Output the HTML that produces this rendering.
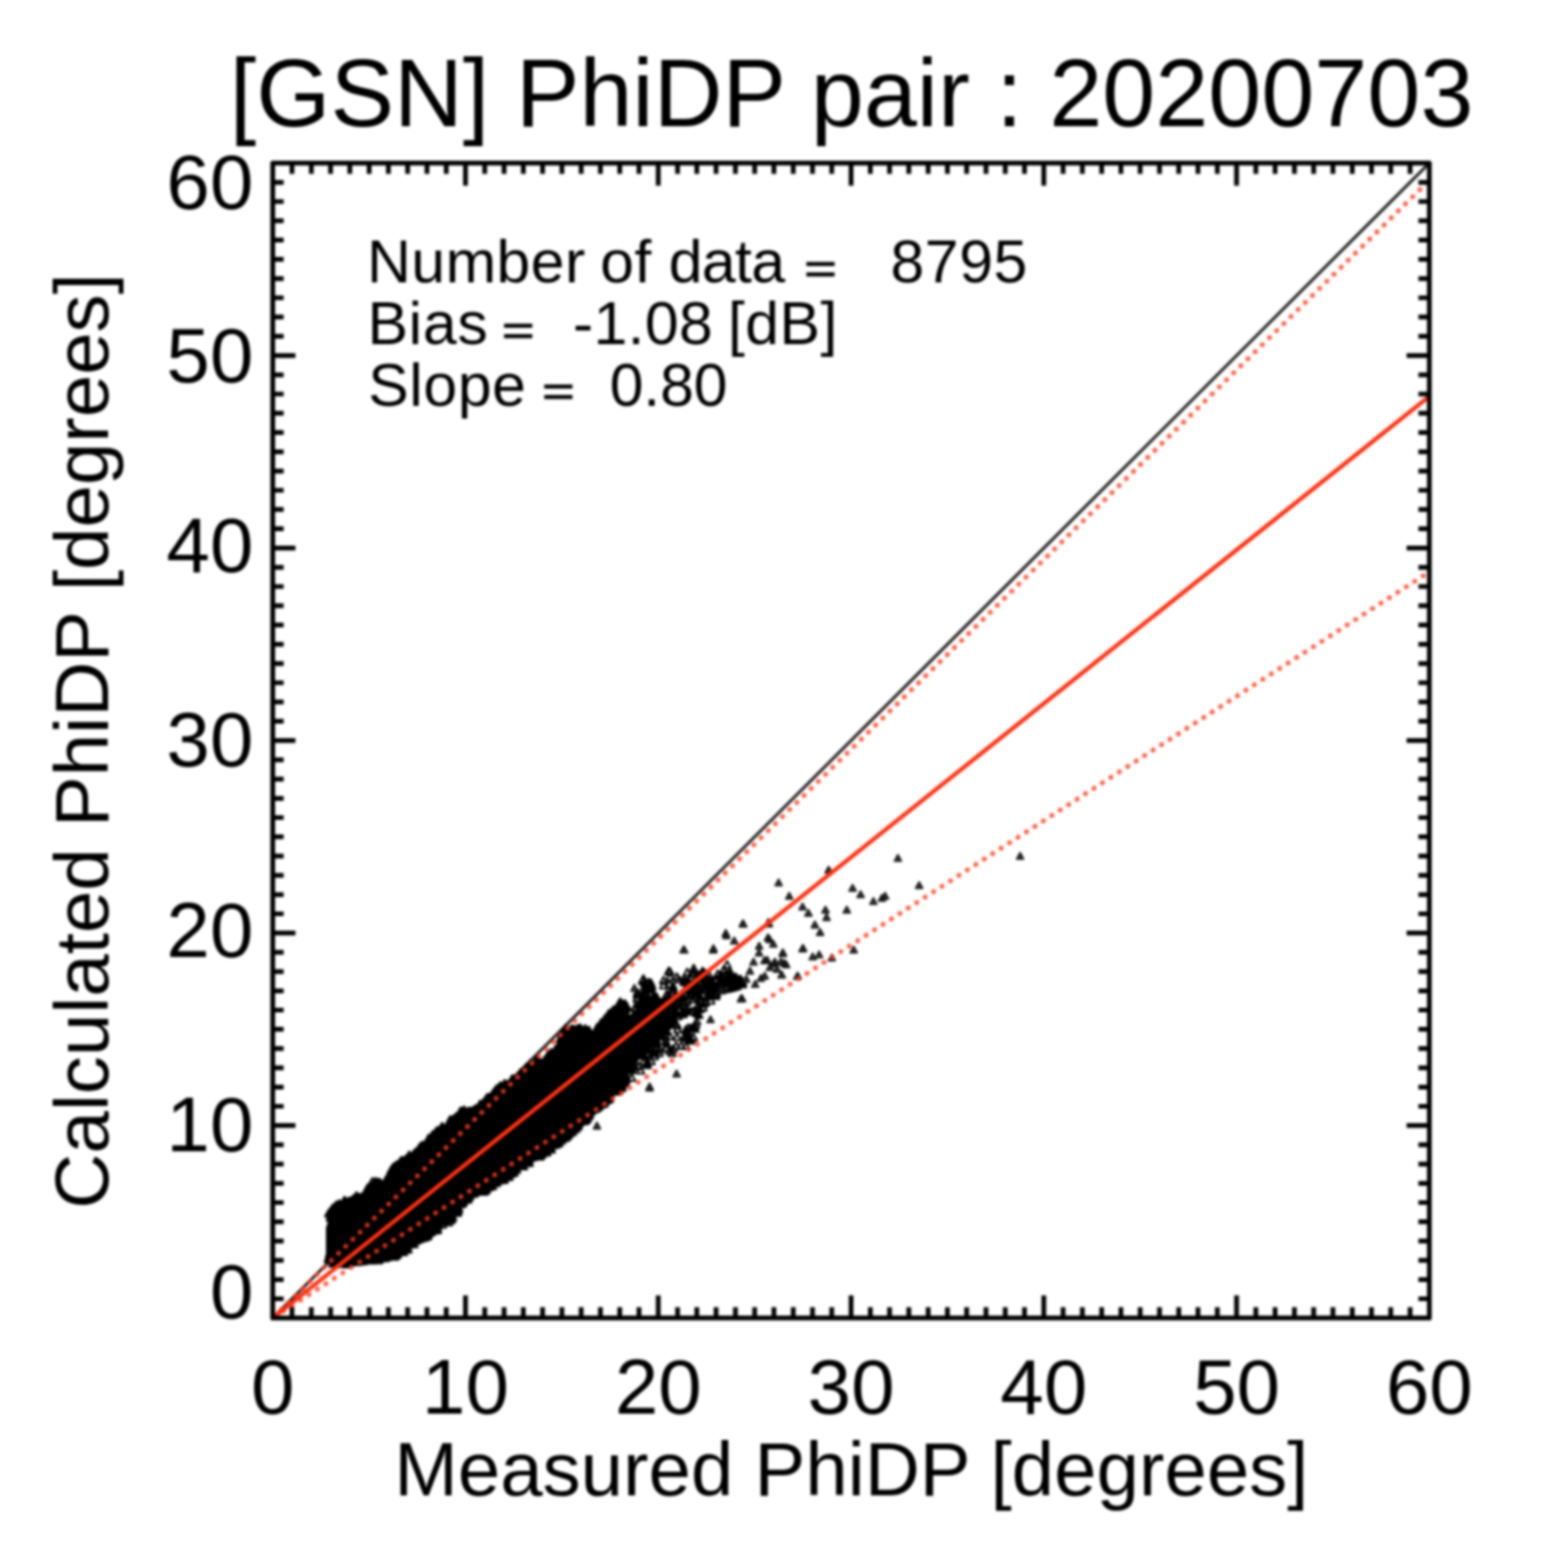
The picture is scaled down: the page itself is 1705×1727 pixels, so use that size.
<!DOCTYPE html><html><head><meta charset="utf-8"><style>html,body{margin:0;padding:0;background:#fff;}svg{display:block;filter:blur(1.4px)}text{font-family:"Liberation Sans",Arial,Helvetica,sans-serif;fill:#000}</style></head><body>
<svg width="1705" height="1727" viewBox="0 0 1705 1727">
<rect width="1705" height="1727" fill="#fff"/>
<text x="253.1" y="139" font-size="105">[GSN] PhiDP pair : 20200703</text>
<line x1="300.4" y1="1451.7" x2="1574.3" y2="179.6" stroke="#222" stroke-width="3.3"/>
<path d="M359.0 1352.0L362.0 1343.6L365.0 1342.3L368.0 1341.0L371.0 1339.5L374.0 1338.0L377.0 1336.5L380.0 1335.0L383.0 1333.8L386.0 1332.7L389.0 1331.5L392.0 1330.2L395.0 1328.7L398.0 1327.3L401.0 1325.6L404.0 1321.6L407.0 1317.7L410.0 1313.7L413.0 1313.4L416.0 1313.9L419.0 1314.4L422.0 1314.9L425.0 1311.2L428.0 1306.3L431.0 1301.4L434.0 1297.7L437.0 1295.0L440.0 1292.3L443.0 1289.7L446.0 1287.5L449.0 1285.4L452.0 1283.3L455.0 1281.2L458.0 1278.6L461.0 1275.9L464.0 1273.2L467.0 1270.4L470.0 1267.8L473.0 1265.3L476.0 1262.8L479.0 1260.3L482.0 1257.8L485.0 1255.2L488.0 1252.5L491.0 1249.8L494.0 1247.1L497.0 1244.3L500.0 1241.4L503.0 1238.5L506.0 1235.6L509.0 1235.2L512.0 1235.4L515.0 1235.6L518.0 1235.9L521.0 1235.0L524.0 1232.2L527.0 1229.4L530.0 1226.5L533.0 1223.7L536.0 1220.9L539.0 1218.4L542.0 1215.9L545.0 1213.4L548.0 1210.9L551.0 1208.5L554.0 1206.0L557.0 1204.1L560.0 1202.5L563.0 1200.8L566.0 1199.2L569.0 1197.2L572.0 1194.6L575.0 1192.0L578.0 1189.4L581.0 1186.8L584.0 1184.2L587.0 1181.6L590.0 1179.3L593.0 1178.8L596.0 1178.3L599.0 1177.2L602.0 1174.8L605.0 1172.4L608.0 1170.0L611.0 1167.7L614.0 1162.5L617.0 1154.0L620.0 1145.6L623.0 1145.3L626.0 1144.9L629.0 1144.6L632.0 1144.3L635.0 1144.3L638.0 1144.3L641.0 1144.3L644.0 1144.3L647.0 1145.7L650.0 1147.5L653.0 1149.2L656.0 1146.4L659.0 1142.6L662.0 1138.9L665.0 1135.1L668.0 1131.4L671.0 1128.1L674.0 1125.1L677.0 1122.1L680.0 1119.1L683.0 1116.1L686.0 1113.1L689.0 1114.2L692.0 1118.3L695.0 1122.7L698.0 1123.6L701.0 1110.2L704.0 1096.7L707.0 1092.6L710.0 1094.9L713.0 1097.1L716.0 1100.0L719.0 1106.7L722.0 1113.0L725.0 1109.5L728.0 1105.9L731.0 1102.3L734.0 1098.7L737.0 1095.1L740.0 1096.8L743.0 1099.4L746.0 1102.0L746.0 1128.2L743.0 1130.7L740.0 1133.2L737.0 1135.6L734.0 1138.0L731.0 1140.2L728.0 1142.5L725.0 1144.7L722.0 1146.9L719.0 1149.2L716.0 1152.6L713.0 1156.4L710.0 1160.1L707.0 1163.8L704.0 1167.5L701.0 1171.3L698.0 1174.5L695.0 1177.5L692.0 1180.5L689.0 1183.1L686.0 1185.0L683.0 1187.3L680.0 1190.0L677.0 1192.7L674.0 1195.4L671.0 1198.1L668.0 1200.8L665.0 1203.5L662.0 1206.2L659.0 1208.9L656.0 1211.6L653.0 1214.3L650.0 1217.0L647.0 1219.7L644.0 1222.4L641.0 1225.1L638.0 1227.8L635.0 1230.5L632.0 1233.2L629.0 1235.9L626.0 1238.6L623.0 1241.3L620.0 1244.0L617.0 1246.2L614.0 1248.5L611.0 1250.7L608.0 1252.9L605.0 1255.1L602.0 1257.3L599.0 1259.1L596.0 1260.9L593.0 1262.7L590.0 1264.5L587.0 1266.3L584.0 1268.1L581.0 1269.9L578.0 1272.1L575.0 1274.3L572.0 1276.5L569.0 1278.7L566.0 1280.9L563.0 1283.2L560.0 1285.3L557.0 1286.9L554.0 1288.6L551.0 1290.2L548.0 1291.9L545.0 1293.6L542.0 1295.2L539.0 1296.9L536.0 1298.5L533.0 1300.2L530.0 1301.8L527.0 1302.8L524.0 1303.8L521.0 1304.7L518.0 1307.3L515.0 1310.7L512.0 1314.1L509.0 1317.5L506.0 1320.9L503.0 1324.3L500.0 1327.8L497.0 1331.3L494.0 1334.6L491.0 1336.6L488.0 1338.6L485.0 1340.6L482.0 1342.6L479.0 1344.6L476.0 1346.5L473.0 1348.3L470.0 1350.2L467.0 1352.1L464.0 1354.0L461.0 1355.8L458.0 1357.9L455.0 1360.1L452.0 1362.2L449.0 1364.3L446.0 1366.5L443.0 1368.5L440.0 1369.9L437.0 1371.3L434.0 1372.7L431.0 1374.1L428.0 1375.5L425.0 1375.9L422.0 1376.2L419.0 1376.5L416.0 1376.7L413.0 1377.0L410.0 1377.3L407.0 1377.5L404.0 1377.8L401.0 1378.1L398.0 1378.5L395.0 1378.9L392.0 1379.3L389.0 1379.7L386.0 1380.1L383.0 1380.4L380.0 1380.3L377.0 1380.2L374.0 1380.0L371.0 1379.8L368.0 1379.6L365.0 1379.4L362.0 1379.2L359.0 1391.0Z" fill="#000"/>
<path d="M576.6 1275.0l-4 7.4h8zM603.3 1255.2l-4 7.4h8zM447.8 1368.5l-4 7.4h8zM404.3 1308.3l-4 7.4h8zM402.6 1374.0l-4 7.4h8zM673.5 1193.0l-4 7.4h8zM434.8 1290.2l-4 7.4h8zM450.5 1279.4l-4 7.4h8zM373.5 1322.0l-4 7.4h8zM608.7 1252.4l-4 7.4h8zM599.4 1259.3l-4 7.4h8zM510.6 1229.3l-4 7.4h8zM498.0 1238.0l-4 7.4h8zM544.9 1295.5l-4 7.4h8zM550.2 1200.6l-4 7.4h8zM661.8 1202.2l-4 7.4h8zM519.0 1304.3l-4 7.4h8zM415.8 1307.4l-4 7.4h8zM444.5 1364.3l-4 7.4h8zM574.2 1187.7l-4 7.4h8zM668.6 1122.5l-4 7.4h8zM561.4 1195.0l-4 7.4h8zM460.4 1266.2l-4 7.4h8zM407.3 1380.3l-4 7.4h8zM461.6 1269.9l-4 7.4h8zM501.5 1229.5l-4 7.4h8zM402.3 1373.7l-4 7.4h8zM537.8 1205.9l-4 7.4h8zM591.7 1261.6l-4 7.4h8zM433.1 1371.6l-4 7.4h8zM479.0 1254.7l-4 7.4h8zM649.3 1141.0l-4 7.4h8zM473.7 1344.4l-4 7.4h8zM482.6 1342.1l-4 7.4h8zM443.4 1366.8l-4 7.4h8zM392.1 1313.7l-4 7.4h8zM654.5 1139.0l-4 7.4h8zM457.1 1274.0l-4 7.4h8zM388.1 1320.2l-4 7.4h8zM536.4 1297.9l-4 7.4h8zM675.0 1194.5l-4 7.4h8zM640.1 1138.5l-4 7.4h8zM369.2 1375.3l-4 7.4h8zM591.0 1269.8l-4 7.4h8zM528.2 1308.5l-4 7.4h8zM559.7 1288.5l-4 7.4h8zM634.5 1232.7l-4 7.4h8zM651.9 1138.2l-4 7.4h8zM666.6 1205.2l-4 7.4h8zM545.8 1295.7l-4 7.4h8zM638.4 1138.3l-4 7.4h8zM373.3 1377.6l-4 7.4h8zM590.3 1172.2l-4 7.4h8zM654.6 1215.5l-4 7.4h8zM482.1 1250.1l-4 7.4h8zM456.4 1266.2l-4 7.4h8zM676.5 1113.5l-4 7.4h8zM679.3 1111.6l-4 7.4h8zM566.3 1287.6l-4 7.4h8zM543.9 1296.4l-4 7.4h8zM511.2 1218.4l-4 7.4h8zM492.1 1243.9l-4 7.4h8zM575.8 1185.2l-4 7.4h8zM660.0 1130.2l-4 7.4h8zM510.7 1318.0l-4 7.4h8zM394.9 1323.4l-4 7.4h8zM379.0 1380.7l-4 7.4h8zM368.2 1333.9l-4 7.4h8zM577.8 1182.7l-4 7.4h8zM426.8 1299.5l-4 7.4h8zM661.6 1128.2l-4 7.4h8zM688.2 1101.8l-4 7.4h8zM587.5 1169.2l-4 7.4h8zM445.1 1283.0l-4 7.4h8zM525.3 1307.7l-4 7.4h8zM548.3 1288.3l-4 7.4h8zM400.9 1374.1l-4 7.4h8zM577.2 1271.5l-4 7.4h8zM540.2 1300.0l-4 7.4h8zM582.0 1272.6l-4 7.4h8zM457.6 1357.5l-4 7.4h8zM461.6 1359.3l-4 7.4h8zM617.3 1247.5l-4 7.4h8zM571.1 1273.4l-4 7.4h8zM372.7 1382.7l-4 7.4h8zM389.8 1377.7l-4 7.4h8zM426.6 1298.8l-4 7.4h8zM607.4 1254.0l-4 7.4h8zM595.9 1264.7l-4 7.4h8zM400.4 1316.2l-4 7.4h8zM666.3 1198.6l-4 7.4h8zM628.3 1130.8l-4 7.4h8zM459.2 1361.0l-4 7.4h8zM611.2 1248.4l-4 7.4h8zM601.0 1261.0l-4 7.4h8zM372.4 1381.8l-4 7.4h8zM629.7 1139.2l-4 7.4h8zM488.5 1239.1l-4 7.4h8zM420.1 1304.4l-4 7.4h8zM451.1 1361.3l-4 7.4h8zM370.0 1333.9l-4 7.4h8zM468.3 1349.3l-4 7.4h8zM657.1 1134.9l-4 7.4h8zM418.1 1372.0l-4 7.4h8zM614.1 1153.3l-4 7.4h8zM539.7 1209.4l-4 7.4h8zM457.3 1354.5l-4 7.4h8zM666.1 1203.2l-4 7.4h8zM470.9 1352.2l-4 7.4h8zM510.9 1226.7l-4 7.4h8zM423.4 1307.1l-4 7.4h8zM483.8 1248.4l-4 7.4h8zM419.6 1304.0l-4 7.4h8zM688.6 1106.1l-4 7.4h8zM414.5 1381.6l-4 7.4h8zM600.8 1254.3l-4 7.4h8zM410.1 1306.7l-4 7.4h8zM624.4 1238.8l-4 7.4h8zM447.8 1280.2l-4 7.4h8zM404.8 1309.1l-4 7.4h8zM516.2 1229.0l-4 7.4h8zM606.9 1165.5l-4 7.4h8zM446.2 1282.2l-4 7.4h8zM554.0 1197.5l-4 7.4h8zM366.4 1381.6l-4 7.4h8zM661.7 1128.4l-4 7.4h8zM483.2 1341.7l-4 7.4h8zM554.1 1291.2l-4 7.4h8zM554.2 1290.8l-4 7.4h8zM392.9 1324.2l-4 7.4h8zM530.1 1297.4l-4 7.4h8zM659.2 1128.8l-4 7.4h8zM521.5 1303.2l-4 7.4h8zM370.0 1375.5l-4 7.4h8zM552.1 1197.9l-4 7.4h8zM453.0 1274.0l-4 7.4h8zM623.6 1239.0l-4 7.4h8zM632.2 1236.1l-4 7.4h8zM395.7 1383.2l-4 7.4h8zM380.7 1379.7l-4 7.4h8zM440.3 1281.2l-4 7.4h8zM653.0 1138.2l-4 7.4h8zM612.4 1247.4l-4 7.4h8zM534.8 1212.7l-4 7.4h8zM495.4 1335.5l-4 7.4h8zM501.4 1235.4l-4 7.4h8zM434.3 1369.9l-4 7.4h8zM546.6 1288.1l-4 7.4h8zM394.4 1376.4l-4 7.4h8zM565.6 1190.0l-4 7.4h8zM610.7 1247.1l-4 7.4h8zM584.3 1266.9l-4 7.4h8zM414.4 1380.4l-4 7.4h8zM578.2 1177.1l-4 7.4h8zM418.8 1307.2l-4 7.4h8zM680.3 1113.6l-4 7.4h8zM560.8 1288.7l-4 7.4h8zM614.3 1253.8l-4 7.4h8zM473.7 1257.0l-4 7.4h8zM659.6 1135.9l-4 7.4h8zM630.7 1239.5l-4 7.4h8zM663.5 1202.1l-4 7.4h8zM378.0 1326.8l-4 7.4h8zM489.3 1244.5l-4 7.4h8zM619.5 1140.2l-4 7.4h8zM400.6 1382.2l-4 7.4h8zM538.5 1211.3l-4 7.4h8zM460.3 1271.5l-4 7.4h8zM659.0 1205.9l-4 7.4h8zM483.1 1343.9l-4 7.4h8zM536.5 1299.4l-4 7.4h8zM622.9 1237.2l-4 7.4h8zM564.7 1184.4l-4 7.4h8zM396.8 1315.7l-4 7.4h8zM630.4 1137.7l-4 7.4h8zM395.6 1318.8l-4 7.4h8zM677.5 1113.6l-4 7.4h8zM495.1 1231.6l-4 7.4h8zM531.1 1298.8l-4 7.4h8zM632.8 1230.3l-4 7.4h8zM569.7 1275.5l-4 7.4h8zM551.2 1290.9l-4 7.4h8zM478.4 1252.1l-4 7.4h8zM549.3 1200.6l-4 7.4h8zM452.8 1359.4l-4 7.4h8zM629.7 1132.2l-4 7.4h8zM494.4 1234.0l-4 7.4h8zM631.9 1229.4l-4 7.4h8zM672.2 1199.9l-4 7.4h8zM399.4 1318.8l-4 7.4h8zM399.7 1380.3l-4 7.4h8zM671.2 1114.9l-4 7.4h8zM465.0 1359.7l-4 7.4h8zM548.7 1204.3l-4 7.4h8zM682.4 1102.0l-4 7.4h8zM556.5 1285.0l-4 7.4h8zM679.7 1189.9l-4 7.4h8zM667.0 1208.7l-4 7.4h8zM561.8 1190.4l-4 7.4h8zM539.6 1204.7l-4 7.4h8zM457.3 1270.2l-4 7.4h8zM414.2 1373.0l-4 7.4h8zM389.0 1322.9l-4 7.4h8zM639.9 1224.5l-4 7.4h8zM447.8 1281.0l-4 7.4h8zM472.2 1348.1l-4 7.4h8zM448.0 1278.9l-4 7.4h8zM442.0 1367.5l-4 7.4h8zM589.6 1167.2l-4 7.4h8zM523.5 1306.5l-4 7.4h8zM465.3 1265.4l-4 7.4h8zM544.2 1294.6l-4 7.4h8zM675.3 1118.7l-4 7.4h8zM364.2 1330.0l-4 7.4h8zM650.5 1134.8l-4 7.4h8zM434.5 1291.9l-4 7.4h8zM607.3 1262.0l-4 7.4h8zM487.2 1341.1l-4 7.4h8zM398.6 1321.7l-4 7.4h8zM589.9 1171.9l-4 7.4h8zM641.2 1224.1l-4 7.4h8zM559.6 1291.7l-4 7.4h8zM402.7 1375.4l-4 7.4h8zM611.8 1154.5l-4 7.4h8zM508.8 1225.6l-4 7.4h8zM583.7 1266.2l-4 7.4h8zM532.0 1301.2l-4 7.4h8zM581.1 1269.2l-4 7.4h8zM673.5 1113.6l-4 7.4h8zM473.2 1350.7l-4 7.4h8zM579.3 1172.0l-4 7.4h8zM458.4 1353.6l-4 7.4h8zM498.7 1232.7l-4 7.4h8zM521.3 1228.8l-4 7.4h8zM679.7 1111.6l-4 7.4h8zM517.4 1313.3l-4 7.4h8zM629.7 1236.6l-4 7.4h8zM403.4 1307.3l-4 7.4h8zM404.4 1374.2l-4 7.4h8zM552.5 1288.8l-4 7.4h8zM644.1 1139.1l-4 7.4h8zM418.7 1306.0l-4 7.4h8zM394.0 1381.4l-4 7.4h8zM670.3 1197.6l-4 7.4h8zM544.6 1208.1l-4 7.4h8zM551.7 1285.8l-4 7.4h8zM676.6 1194.3l-4 7.4h8zM523.6 1300.0l-4 7.4h8zM410.1 1297.5l-4 7.4h8zM653.1 1144.0l-4 7.4h8zM622.7 1137.1l-4 7.4h8zM607.2 1248.9l-4 7.4h8zM453.9 1359.3l-4 7.4h8zM399.0 1319.1l-4 7.4h8zM636.3 1231.9l-4 7.4h8zM418.7 1381.2l-4 7.4h8zM620.4 1249.6l-4 7.4h8zM648.3 1131.0l-4 7.4h8zM497.8 1326.2l-4 7.4h8zM448.3 1368.7l-4 7.4h8zM395.7 1315.7l-4 7.4h8zM681.9 1190.2l-4 7.4h8zM366.9 1331.0l-4 7.4h8zM584.1 1173.1l-4 7.4h8zM442.5 1369.7l-4 7.4h8zM485.8 1340.1l-4 7.4h8zM377.2 1383.7l-4 7.4h8zM428.6 1376.5l-4 7.4h8zM556.9 1286.7l-4 7.4h8zM592.7 1265.0l-4 7.4h8zM555.7 1189.4l-4 7.4h8zM631.2 1237.1l-4 7.4h8zM566.9 1277.0l-4 7.4h8zM513.3 1228.8l-4 7.4h8zM505.6 1319.8l-4 7.4h8zM574.0 1271.9l-4 7.4h8zM549.8 1202.1l-4 7.4h8zM474.0 1252.4l-4 7.4h8zM679.2 1192.1l-4 7.4h8zM561.7 1281.4l-4 7.4h8zM631.6 1239.5l-4 7.4h8zM406.4 1378.7l-4 7.4h8zM550.1 1199.3l-4 7.4h8zM507.1 1227.7l-4 7.4h8zM586.3 1173.4l-4 7.4h8zM529.3 1216.3l-4 7.4h8zM456.2 1366.4l-4 7.4h8zM451.1 1361.2l-4 7.4h8zM509.5 1313.2l-4 7.4h8zM423.9 1377.9l-4 7.4h8zM397.0 1320.5l-4 7.4h8zM506.7 1316.8l-4 7.4h8zM472.2 1348.1l-4 7.4h8zM538.2 1299.2l-4 7.4h8zM469.1 1258.1l-4 7.4h8zM679.8 1112.9l-4 7.4h8zM570.8 1275.0l-4 7.4h8zM614.3 1152.7l-4 7.4h8zM479.7 1342.7l-4 7.4h8zM400.9 1321.0l-4 7.4h8zM493.2 1335.4l-4 7.4h8zM448.6 1361.7l-4 7.4h8zM581.0 1265.4l-4 7.4h8zM544.0 1293.6l-4 7.4h8zM626.4 1233.6l-4 7.4h8zM532.0 1297.8l-4 7.4h8zM602.2 1260.2l-4 7.4h8zM688.1 1182.9l-4 7.4h8zM438.4 1367.2l-4 7.4h8zM472.2 1259.7l-4 7.4h8zM472.5 1249.8l-4 7.4h8zM465.4 1350.2l-4 7.4h8zM646.1 1215.9l-4 7.4h8zM634.4 1228.0l-4 7.4h8zM367.6 1333.2l-4 7.4h8zM568.1 1192.4l-4 7.4h8zM393.9 1386.0l-4 7.4h8zM632.6 1229.3l-4 7.4h8zM429.3 1294.9l-4 7.4h8zM379.4 1325.0l-4 7.4h8zM486.3 1340.6l-4 7.4h8zM401.6 1375.8l-4 7.4h8zM435.9 1371.6l-4 7.4h8zM388.4 1324.1l-4 7.4h8zM379.3 1327.4l-4 7.4h8zM428.5 1300.8l-4 7.4h8zM474.7 1344.5l-4 7.4h8zM427.1 1301.2l-4 7.4h8zM395.8 1317.2l-4 7.4h8zM469.6 1259.0l-4 7.4h8zM581.0 1266.8l-4 7.4h8zM534.1 1209.3l-4 7.4h8zM378.1 1330.3l-4 7.4h8zM671.5 1117.4l-4 7.4h8zM643.1 1226.9l-4 7.4h8zM581.5 1178.2l-4 7.4h8zM462.6 1264.5l-4 7.4h8zM447.3 1363.2l-4 7.4h8zM462.2 1266.5l-4 7.4h8zM507.4 1220.7l-4 7.4h8zM457.4 1274.2l-4 7.4h8zM394.0 1377.8l-4 7.4h8zM367.9 1332.5l-4 7.4h8zM485.2 1241.3l-4 7.4h8zM488.2 1243.0l-4 7.4h8zM432.8 1375.7l-4 7.4h8zM368.8 1327.5l-4 7.4h8zM543.9 1205.4l-4 7.4h8zM608.8 1160.9l-4 7.4h8zM548.5 1202.3l-4 7.4h8zM645.4 1139.3l-4 7.4h8zM509.2 1227.2l-4 7.4h8zM484.2 1337.5l-4 7.4h8zM679.4 1113.6l-4 7.4h8zM554.0 1196.4l-4 7.4h8zM467.7 1262.6l-4 7.4h8zM378.6 1327.4l-4 7.4h8zM662.2 1207.8l-4 7.4h8zM463.0 1358.1l-4 7.4h8zM402.2 1317.6l-4 7.4h8zM543.4 1208.7l-4 7.4h8zM598.1 1169.7l-4 7.4h8zM587.6 1170.9l-4 7.4h8zM679.0 1110.6l-4 7.4h8zM562.1 1193.4l-4 7.4h8zM639.2 1231.6l-4 7.4h8zM370.1 1332.0l-4 7.4h8zM534.2 1216.2l-4 7.4h8zM597.4 1256.7l-4 7.4h8zM584.6 1179.0l-4 7.4h8zM525.9 1300.0l-4 7.4h8zM631.1 1137.7l-4 7.4h8zM584.7 1266.7l-4 7.4h8zM533.4 1305.8l-4 7.4h8zM660.8 1206.7l-4 7.4h8zM556.7 1197.7l-4 7.4h8zM542.7 1302.3l-4 7.4h8zM377.3 1326.1l-4 7.4h8zM532.4 1296.2l-4 7.4h8zM431.1 1295.3l-4 7.4h8zM471.8 1252.0l-4 7.4h8zM620.6 1140.4l-4 7.4h8zM671.7 1200.4l-4 7.4h8zM659.3 1212.4l-4 7.4h8zM509.7 1315.4l-4 7.4h8zM435.7 1376.6l-4 7.4h8zM595.0 1260.5l-4 7.4h8zM615.8 1148.8l-4 7.4h8zM478.9 1252.4l-4 7.4h8zM419.6 1302.9l-4 7.4h8zM392.0 1324.7l-4 7.4h8zM576.2 1271.8l-4 7.4h8zM590.2 1165.9l-4 7.4h8zM384.7 1318.8l-4 7.4h8zM603.1 1260.0l-4 7.4h8zM480.1 1345.7l-4 7.4h8zM516.2 1230.4l-4 7.4h8zM658.7 1205.7l-4 7.4h8zM540.3 1294.7l-4 7.4h8zM470.1 1254.5l-4 7.4h8zM423.3 1372.2l-4 7.4h8zM560.7 1292.3l-4 7.4h8zM382.4 1385.0l-4 7.4h8zM415.9 1306.9l-4 7.4h8zM416.8 1299.2l-4 7.4h8zM371.8 1381.5l-4 7.4h8zM507.7 1315.0l-4 7.4h8zM495.5 1232.9l-4 7.4h8zM546.3 1295.7l-4 7.4h8zM621.6 1240.4l-4 7.4h8zM410.5 1375.8l-4 7.4h8zM479.9 1250.8l-4 7.4h8zM368.3 1379.0l-4 7.4h8zM428.1 1371.5l-4 7.4h8zM590.9 1169.9l-4 7.4h8zM507.8 1225.1l-4 7.4h8zM446.8 1278.0l-4 7.4h8zM591.9 1174.3l-4 7.4h8zM549.4 1196.1l-4 7.4h8zM658.7 1135.4l-4 7.4h8zM572.2 1272.4l-4 7.4h8zM371.9 1330.5l-4 7.4h8zM416.1 1302.4l-4 7.4h8zM508.1 1322.3l-4 7.4h8zM364.0 1337.2l-4 7.4h8zM612.6 1245.1l-4 7.4h8zM551.0 1290.8l-4 7.4h8zM407.5 1382.7l-4 7.4h8zM552.5 1284.9l-4 7.4h8zM468.3 1258.2l-4 7.4h8zM534.4 1301.8l-4 7.4h8zM529.3 1217.9l-4 7.4h8zM404.3 1313.4l-4 7.4h8zM460.7 1360.8l-4 7.4h8zM444.3 1281.3l-4 7.4h8zM427.8 1301.3l-4 7.4h8zM600.7 1170.8l-4 7.4h8zM513.6 1311.8l-4 7.4h8zM513.4 1309.2l-4 7.4h8zM464.6 1260.9l-4 7.4h8zM444.5 1277.0l-4 7.4h8zM530.8 1302.3l-4 7.4h8zM540.9 1298.6l-4 7.4h8zM461.1 1360.9l-4 7.4h8zM661.4 1210.5l-4 7.4h8zM632.1 1134.5l-4 7.4h8zM577.0 1276.7l-4 7.4h8zM560.7 1196.4l-4 7.4h8zM634.5 1235.1l-4 7.4h8zM374.5 1383.6l-4 7.4h8zM645.0 1219.8l-4 7.4h8zM432.1 1284.4l-4 7.4h8zM509.5 1312.7l-4 7.4h8zM671.3 1198.8l-4 7.4h8zM605.1 1260.7l-4 7.4h8zM390.2 1376.1l-4 7.4h8zM577.4 1272.7l-4 7.4h8zM453.3 1276.3l-4 7.4h8zM626.0 1236.0l-4 7.4h8zM595.1 1169.9l-4 7.4h8zM623.2 1248.7l-4 7.4h8zM432.0 1293.7l-4 7.4h8zM525.3 1299.8l-4 7.4h8zM415.5 1299.5l-4 7.4h8zM655.8 1215.3l-4 7.4h8zM393.6 1376.9l-4 7.4h8zM453.8 1365.1l-4 7.4h8zM566.2 1191.5l-4 7.4h8zM661.9 1129.6l-4 7.4h8zM649.1 1214.7l-4 7.4h8zM583.4 1177.0l-4 7.4h8zM414.8 1377.0l-4 7.4h8zM453.4 1360.5l-4 7.4h8zM532.3 1216.7l-4 7.4h8zM662.6 1131.5l-4 7.4h8zM525.6 1299.3l-4 7.4h8zM472.1 1347.2l-4 7.4h8zM496.8 1339.8l-4 7.4h8zM684.5 1104.1l-4 7.4h8zM648.2 1139.2l-4 7.4h8zM389.9 1325.2l-4 7.4h8zM499.9 1330.2l-4 7.4h8zM682.3 1109.3l-4 7.4h8zM480.0 1253.0l-4 7.4h8zM523.3 1304.5l-4 7.4h8zM621.6 1133.8l-4 7.4h8zM401.5 1313.0l-4 7.4h8zM680.9 1106.2l-4 7.4h8zM370.2 1381.2l-4 7.4h8zM582.6 1179.6l-4 7.4h8zM549.1 1290.0l-4 7.4h8zM671.6 1195.4l-4 7.4h8zM581.3 1181.8l-4 7.4h8zM674.6 1115.5l-4 7.4h8zM536.9 1215.2l-4 7.4h8zM548.8 1290.2l-4 7.4h8zM671.1 1195.4l-4 7.4h8zM480.9 1340.1l-4 7.4h8zM416.6 1298.2l-4 7.4h8zM366.6 1387.9l-4 7.4h8zM370.6 1330.4l-4 7.4h8zM616.8 1250.6l-4 7.4h8zM504.0 1325.9l-4 7.4h8zM418.9 1373.8l-4 7.4h8zM605.4 1165.5l-4 7.4h8zM477.7 1252.5l-4 7.4h8zM576.3 1270.3l-4 7.4h8zM580.0 1276.1l-4 7.4h8zM433.5 1376.1l-4 7.4h8zM611.5 1152.8l-4 7.4h8zM557.8 1190.7l-4 7.4h8zM433.0 1369.6l-4 7.4h8zM434.3 1378.2l-4 7.4h8zM372.7 1328.7l-4 7.4h8zM381.2 1325.5l-4 7.4h8zM412.8 1374.8l-4 7.4h8zM517.1 1223.5l-4 7.4h8zM632.2 1239.6l-4 7.4h8zM548.7 1205.4l-4 7.4h8zM535.9 1211.4l-4 7.4h8zM588.4 1169.3l-4 7.4h8zM382.8 1378.9l-4 7.4h8zM388.7 1381.4l-4 7.4h8zM466.1 1264.7l-4 7.4h8zM537.9 1210.0l-4 7.4h8zM593.4 1173.6l-4 7.4h8zM554.6 1292.4l-4 7.4h8zM534.9 1294.9l-4 7.4h8zM536.4 1209.2l-4 7.4h8zM510.6 1225.2l-4 7.4h8zM607.3 1251.6l-4 7.4h8zM480.2 1253.8l-4 7.4h8zM563.7 1282.4l-4 7.4h8zM686.0 1105.4l-4 7.4h8zM516.9 1226.3l-4 7.4h8zM667.9 1116.5l-4 7.4h8zM666.2 1124.2l-4 7.4h8zM637.9 1139.1l-4 7.4h8zM685.9 1187.2l-4 7.4h8zM395.1 1384.4l-4 7.4h8zM540.7 1208.4l-4 7.4h8zM569.1 1187.9l-4 7.4h8zM393.4 1315.4l-4 7.4h8zM679.5 1188.4l-4 7.4h8zM508.1 1316.0l-4 7.4h8zM628.5 1233.4l-4 7.4h8zM617.0 1248.2l-4 7.4h8zM418.3 1373.5l-4 7.4h8zM566.8 1193.9l-4 7.4h8zM683.4 1192.3l-4 7.4h8zM545.6 1289.0l-4 7.4h8zM409.6 1377.0l-4 7.4h8zM456.2 1268.2l-4 7.4h8zM437.8 1283.1l-4 7.4h8zM545.9 1292.7l-4 7.4h8zM516.8 1306.3l-4 7.4h8zM471.4 1261.0l-4 7.4h8zM482.6 1244.3l-4 7.4h8zM540.6 1299.6l-4 7.4h8zM628.1 1235.8l-4 7.4h8zM578.2 1183.3l-4 7.4h8zM408.2 1300.7l-4 7.4h8zM375.9 1383.0l-4 7.4h8zM519.2 1227.9l-4 7.4h8zM406.0 1373.9l-4 7.4h8zM616.3 1246.4l-4 7.4h8zM417.1 1384.1l-4 7.4h8zM534.1 1301.9l-4 7.4h8zM498.9 1325.2l-4 7.4h8zM478.9 1250.8l-4 7.4h8zM617.4 1147.0l-4 7.4h8zM422.3 1305.5l-4 7.4h8zM490.1 1244.6l-4 7.4h8zM436.0 1374.8l-4 7.4h8zM652.1 1211.3l-4 7.4h8zM676.4 1196.6l-4 7.4h8zM484.0 1245.9l-4 7.4h8zM471.3 1259.7l-4 7.4h8zM537.2 1300.5l-4 7.4h8zM631.3 1137.1l-4 7.4h8zM470.7 1357.1l-4 7.4h8zM675.1 1109.6l-4 7.4h8zM388.5 1376.6l-4 7.4h8zM633.6 1227.8l-4 7.4h8zM688.6 1180.5l-4 7.4h8zM396.1 1381.8l-4 7.4h8zM447.8 1365.3l-4 7.4h8zM454.0 1362.2l-4 7.4h8zM559.7 1191.4l-4 7.4h8zM627.2 1236.5l-4 7.4h8zM629.1 1138.2l-4 7.4h8zM368.7 1330.5l-4 7.4h8zM643.1 1225.4l-4 7.4h8zM400.6 1379.4l-4 7.4h8zM374.3 1322.1l-4 7.4h8zM370.6 1323.2l-4 7.4h8zM609.0 1248.1l-4 7.4h8zM555.1 1200.0l-4 7.4h8zM485.1 1336.8l-4 7.4h8zM612.1 1159.0l-4 7.4h8zM471.7 1350.9l-4 7.4h8zM443.5 1284.5l-4 7.4h8zM519.1 1223.9l-4 7.4h8zM673.7 1115.8l-4 7.4h8zM447.8 1281.0l-4 7.4h8zM504.0 1231.5l-4 7.4h8zM618.8 1134.8l-4 7.4h8zM537.3 1205.0l-4 7.4h8zM545.2 1205.8l-4 7.4h8zM521.7 1310.9l-4 7.4h8zM541.5 1202.8l-4 7.4h8zM587.9 1267.1l-4 7.4h8zM365.7 1335.7l-4 7.4h8zM428.0 1300.1l-4 7.4h8zM523.5 1305.8l-4 7.4h8zM451.7 1271.0l-4 7.4h8zM685.2 1183.3l-4 7.4h8zM416.8 1307.1l-4 7.4h8zM447.9 1280.7l-4 7.4h8zM382.7 1328.0l-4 7.4h8zM612.4 1248.1l-4 7.4h8zM398.2 1319.9l-4 7.4h8zM395.9 1322.7l-4 7.4h8zM517.9 1305.9l-4 7.4h8zM580.1 1277.0l-4 7.4h8zM370.8 1381.3l-4 7.4h8zM551.7 1201.2l-4 7.4h8zM460.8 1268.1l-4 7.4h8zM464.7 1358.4l-4 7.4h8zM582.7 1180.6l-4 7.4h8zM366.3 1332.2l-4 7.4h8zM656.6 1139.7l-4 7.4h8zM586.5 1264.5l-4 7.4h8zM638.4 1134.1l-4 7.4h8zM618.8 1137.3l-4 7.4h8zM471.2 1357.3l-4 7.4h8zM437.2 1371.9l-4 7.4h8zM441.2 1365.3l-4 7.4h8zM472.1 1353.0l-4 7.4h8zM689.6 1103.1l-4 7.4h8zM606.3 1164.0l-4 7.4h8zM662.9 1124.7l-4 7.4h8zM402.3 1310.1l-4 7.4h8zM493.7 1241.6l-4 7.4h8zM399.7 1374.8l-4 7.4h8zM481.5 1350.5l-4 7.4h8zM594.6 1168.6l-4 7.4h8zM498.8 1330.6l-4 7.4h8zM453.5 1277.6l-4 7.4h8zM688.5 1181.6l-4 7.4h8zM443.8 1375.0l-4 7.4h8zM504.9 1230.8l-4 7.4h8zM605.2 1167.0l-4 7.4h8zM652.7 1218.5l-4 7.4h8zM390.0 1378.8l-4 7.4h8zM411.6 1376.4l-4 7.4h8zM448.4 1364.2l-4 7.4h8zM658.6 1138.2l-4 7.4h8zM632.8 1230.2l-4 7.4h8zM666.4 1124.2l-4 7.4h8zM370.0 1331.4l-4 7.4h8zM469.0 1347.8l-4 7.4h8zM607.1 1156.3l-4 7.4h8zM490.3 1239.9l-4 7.4h8zM518.0 1310.6l-4 7.4h8zM498.7 1336.8l-4 7.4h8zM519.3 1220.0l-4 7.4h8zM616.6 1147.8l-4 7.4h8zM479.1 1251.4l-4 7.4h8zM516.5 1228.8l-4 7.4h8zM666.7 1125.8l-4 7.4h8zM417.7 1306.9l-4 7.4h8zM688.8 1187.4l-4 7.4h8zM479.8 1342.6l-4 7.4h8zM612.8 1160.9l-4 7.4h8zM431.3 1371.6l-4 7.4h8zM490.1 1333.4l-4 7.4h8zM670.6 1199.6l-4 7.4h8zM578.6 1178.4l-4 7.4h8zM386.0 1323.5l-4 7.4h8zM488.6 1336.7l-4 7.4h8zM563.7 1279.3l-4 7.4h8zM552.9 1288.4l-4 7.4h8zM381.3 1384.0l-4 7.4h8zM420.8 1308.9l-4 7.4h8zM394.1 1324.4l-4 7.4h8zM584.4 1167.1l-4 7.4h8zM593.1 1261.7l-4 7.4h8zM510.8 1314.9l-4 7.4h8zM465.3 1352.3l-4 7.4h8zM603.7 1157.9l-4 7.4h8zM482.8 1345.5l-4 7.4h8zM574.7 1181.1l-4 7.4h8zM510.8 1313.6l-4 7.4h8zM556.8 1198.6l-4 7.4h8zM586.8 1268.9l-4 7.4h8zM552.1 1295.7l-4 7.4h8zM501.5 1330.5l-4 7.4h8zM680.7 1110.9l-4 7.4h8zM673.3 1120.2l-4 7.4h8zM523.4 1307.4l-4 7.4h8zM367.0 1336.3l-4 7.4h8zM654.1 1139.1l-4 7.4h8zM550.6 1290.6l-4 7.4h8zM547.2 1290.3l-4 7.4h8zM637.5 1129.0l-4 7.4h8zM629.0 1234.8l-4 7.4h8zM515.2 1306.1l-4 7.4h8zM491.0 1339.5l-4 7.4h8zM439.4 1367.0l-4 7.4h8zM678.0 1114.1l-4 7.4h8zM428.8 1376.8l-4 7.4h8zM580.4 1274.1l-4 7.4h8zM528.6 1298.2l-4 7.4h8zM395.2 1320.5l-4 7.4h8zM541.9 1202.1l-4 7.4h8zM531.4 1302.7l-4 7.4h8zM675.1 1118.4l-4 7.4h8zM508.6 1317.8l-4 7.4h8zM444.6 1281.9l-4 7.4h8zM400.2 1373.9l-4 7.4h8zM594.3 1262.4l-4 7.4h8zM372.5 1378.1l-4 7.4h8zM521.1 1303.5l-4 7.4h8zM464.0 1265.8l-4 7.4h8zM633.2 1234.0l-4 7.4h8zM466.5 1263.6l-4 7.4h8zM523.1 1225.8l-4 7.4h8zM566.4 1284.5l-4 7.4h8zM441.4 1281.5l-4 7.4h8zM462.9 1353.3l-4 7.4h8zM534.2 1214.7l-4 7.4h8zM381.7 1387.4l-4 7.4h8zM620.3 1243.9l-4 7.4h8zM404.8 1304.6l-4 7.4h8zM389.1 1316.9l-4 7.4h8zM443.8 1283.1l-4 7.4h8zM679.8 1188.8l-4 7.4h8zM498.0 1332.0l-4 7.4h8zM530.2 1221.7l-4 7.4h8zM484.5 1245.7l-4 7.4h8zM508.3 1314.0l-4 7.4h8zM584.6 1266.3l-4 7.4h8zM509.0 1313.1l-4 7.4h8zM676.2 1197.9l-4 7.4h8zM599.7 1166.1l-4 7.4h8zM584.4 1268.2l-4 7.4h8zM615.4 1246.4l-4 7.4h8zM369.7 1332.7l-4 7.4h8zM374.3 1379.3l-4 7.4h8zM451.0 1362.0l-4 7.4h8zM687.8 1179.5l-4 7.4h8zM550.2 1293.3l-4 7.4h8zM394.8 1316.2l-4 7.4h8zM606.6 1165.1l-4 7.4h8zM365.4 1328.1l-4 7.4h8zM546.4 1294.6l-4 7.4h8zM568.5 1279.9l-4 7.4h8zM643.7 1221.4l-4 7.4h8zM683.3 1104.8l-4 7.4h8zM574.0 1274.9l-4 7.4h8zM662.8 1126.0l-4 7.4h8zM464.8 1349.4l-4 7.4h8zM519.6 1303.3l-4 7.4h8zM627.8 1136.8l-4 7.4h8zM386.5 1324.0l-4 7.4h8zM426.6 1300.2l-4 7.4h8zM586.8 1262.5l-4 7.4h8zM513.5 1229.0l-4 7.4h8zM664.5 1203.0l-4 7.4h8zM380.0 1384.7l-4 7.4h8zM480.4 1347.3l-4 7.4h8zM448.1 1276.7l-4 7.4h8zM493.1 1331.5l-4 7.4h8zM683.4 1109.2l-4 7.4h8zM498.4 1329.4l-4 7.4h8zM681.1 1192.1l-4 7.4h8zM596.4 1166.7l-4 7.4h8zM595.7 1171.7l-4 7.4h8zM372.4 1375.7l-4 7.4h8zM537.6 1209.7l-4 7.4h8zM445.8 1369.0l-4 7.4h8zM599.4 1258.7l-4 7.4h8zM450.2 1360.8l-4 7.4h8zM396.6 1378.2l-4 7.4h8zM584.0 1264.4l-4 7.4h8zM657.0 1206.8l-4 7.4h8zM383.8 1386.1l-4 7.4h8zM430.1 1296.8l-4 7.4h8zM542.2 1210.7l-4 7.4h8zM381.4 1387.5l-4 7.4h8zM377.0 1323.3l-4 7.4h8zM496.9 1236.4l-4 7.4h8zM667.0 1125.2l-4 7.4h8zM440.1 1367.9l-4 7.4h8zM632.3 1231.0l-4 7.4h8zM545.6 1199.6l-4 7.4h8zM452.0 1276.5l-4 7.4h8zM363.5 1380.2l-4 7.4h8zM619.6 1243.1l-4 7.4h8zM422.5 1308.7l-4 7.4h8zM378.7 1325.0l-4 7.4h8zM499.8 1325.5l-4 7.4h8zM448.3 1271.5l-4 7.4h8zM413.2 1373.2l-4 7.4h8zM533.2 1308.5l-4 7.4h8zM636.6 1236.9l-4 7.4h8zM674.5 1190.5l-4 7.4h8zM428.1 1298.3l-4 7.4h8zM388.9 1376.4l-4 7.4h8zM493.5 1239.6l-4 7.4h8zM574.3 1272.9l-4 7.4h8zM485.3 1248.9l-4 7.4h8zM454.6 1359.7l-4 7.4h8zM522.3 1228.8l-4 7.4h8zM516.9 1231.2l-4 7.4h8zM665.7 1128.6l-4 7.4h8zM590.6 1264.1l-4 7.4h8zM561.5 1192.6l-4 7.4h8zM581.7 1268.2l-4 7.4h8zM432.1 1373.3l-4 7.4h8zM655.6 1141.4l-4 7.4h8zM376.0 1328.1l-4 7.4h8zM634.3 1236.2l-4 7.4h8zM387.0 1320.6l-4 7.4h8zM687.9 1180.8l-4 7.4h8zM538.0 1213.6l-4 7.4h8zM469.3 1262.6l-4 7.4h8zM436.7 1287.3l-4 7.4h8zM649.2 1213.7l-4 7.4h8zM524.7 1222.0l-4 7.4h8zM625.5 1243.7l-4 7.4h8zM684.7 1183.8l-4 7.4h8zM663.4 1121.6l-4 7.4h8zM364.2 1337.3l-4 7.4h8zM604.1 1260.0l-4 7.4h8zM387.3 1319.9l-4 7.4h8zM498.5 1232.1l-4 7.4h8zM602.3 1264.1l-4 7.4h8zM591.8 1165.4l-4 7.4h8zM589.8 1172.8l-4 7.4h8zM551.2 1203.7l-4 7.4h8zM685.1 1105.4l-4 7.4h8zM648.6 1219.2l-4 7.4h8zM572.8 1180.1l-4 7.4h8zM461.6 1260.7l-4 7.4h8zM591.3 1165.5l-4 7.4h8zM390.0 1385.2l-4 7.4h8zM461.9 1268.9l-4 7.4h8zM520.2 1229.8l-4 7.4h8zM411.5 1304.3l-4 7.4h8zM458.3 1267.8l-4 7.4h8zM649.2 1137.9l-4 7.4h8zM394.4 1382.9l-4 7.4h8zM513.1 1311.1l-4 7.4h8zM378.6 1380.9l-4 7.4h8zM478.7 1346.5l-4 7.4h8zM511.7 1230.4l-4 7.4h8zM521.0 1219.4l-4 7.4h8zM582.0 1178.1l-4 7.4h8zM597.7 1257.5l-4 7.4h8zM534.3 1210.0l-4 7.4h8zM646.6 1216.6l-4 7.4h8zM554.6 1292.5l-4 7.4h8zM539.1 1207.4l-4 7.4h8zM528.6 1216.3l-4 7.4h8zM684.3 1188.6l-4 7.4h8zM479.8 1248.9l-4 7.4h8zM407.4 1377.8l-4 7.4h8zM541.0 1209.5l-4 7.4h8zM427.4 1373.2l-4 7.4h8zM481.5 1340.1l-4 7.4h8zM467.6 1351.5l-4 7.4h8zM456.0 1270.0l-4 7.4h8zM563.2 1195.9l-4 7.4h8zM666.3 1199.4l-4 7.4h8zM515.9 1229.2l-4 7.4h8zM649.1 1140.5l-4 7.4h8zM577.0 1268.9l-4 7.4h8zM561.5 1195.5l-4 7.4h8zM532.0 1301.9l-4 7.4h8zM419.6 1378.1l-4 7.4h8zM402.4 1375.7l-4 7.4h8zM556.5 1198.2l-4 7.4h8zM637.0 1234.6l-4 7.4h8zM669.6 1121.9l-4 7.4h8zM681.0 1106.9l-4 7.4h8zM606.9 1250.4l-4 7.4h8zM633.1 1229.0l-4 7.4h8zM428.8 1297.9l-4 7.4h8zM436.2 1369.7l-4 7.4h8zM582.8 1270.7l-4 7.4h8zM493.4 1336.5l-4 7.4h8zM403.8 1377.9l-4 7.4h8zM643.2 1220.7l-4 7.4h8zM557.7 1284.1l-4 7.4h8zM482.7 1344.5l-4 7.4h8zM410.3 1306.0l-4 7.4h8zM638.8 1132.1l-4 7.4h8zM541.7 1203.3l-4 7.4h8zM459.3 1270.4l-4 7.4h8zM586.9 1173.0l-4 7.4h8zM528.6 1217.1l-4 7.4h8zM569.2 1184.0l-4 7.4h8zM584.1 1170.0l-4 7.4h8zM516.0 1307.7l-4 7.4h8zM428.8 1295.8l-4 7.4h8zM374.6 1329.1l-4 7.4h8zM563.8 1278.8l-4 7.4h8zM511.3 1229.4l-4 7.4h8zM508.7 1220.1l-4 7.4h8zM542.6 1204.1l-4 7.4h8zM409.6 1309.1l-4 7.4h8zM399.1 1317.4l-4 7.4h8zM510.7 1311.4l-4 7.4h8zM576.4 1180.7l-4 7.4h8zM585.9 1263.2l-4 7.4h8zM648.1 1226.0l-4 7.4h8zM441.3 1368.3l-4 7.4h8zM417.3 1298.3l-4 7.4h8zM571.7 1274.0l-4 7.4h8zM604.3 1164.4l-4 7.4h8zM645.2 1224.3l-4 7.4h8zM393.3 1324.3l-4 7.4h8zM468.4 1258.7l-4 7.4h8zM383.5 1322.8l-4 7.4h8zM630.8 1137.9l-4 7.4h8zM367.1 1378.8l-4 7.4h8zM540.7 1205.9l-4 7.4h8zM383.9 1327.9l-4 7.4h8zM373.2 1330.7l-4 7.4h8zM368.4 1379.5l-4 7.4h8zM611.8 1157.0l-4 7.4h8zM407.8 1380.0l-4 7.4h8zM524.3 1301.7l-4 7.4h8zM601.0 1260.4l-4 7.4h8zM683.2 1099.5l-4 7.4h8zM615.6 1254.6l-4 7.4h8zM384.1 1377.6l-4 7.4h8zM655.4 1209.3l-4 7.4h8zM587.5 1175.4l-4 7.4h8zM438.2 1372.9l-4 7.4h8zM594.2 1265.9l-4 7.4h8zM506.7 1320.1l-4 7.4h8zM491.3 1244.7l-4 7.4h8zM388.1 1376.8l-4 7.4h8zM589.7 1174.5l-4 7.4h8zM409.2 1375.8l-4 7.4h8zM573.3 1187.5l-4 7.4h8zM682.4 1108.8l-4 7.4h8zM586.4 1171.7l-4 7.4h8zM645.7 1229.2l-4 7.4h8zM468.8 1258.2l-4 7.4h8zM580.1 1270.6l-4 7.4h8zM509.2 1226.9l-4 7.4h8zM402.7 1317.3l-4 7.4h8zM379.1 1318.5l-4 7.4h8zM475.6 1346.2l-4 7.4h8zM408.2 1375.9l-4 7.4h8zM586.3 1262.9l-4 7.4h8zM489.5 1340.7l-4 7.4h8zM677.5 1114.6l-4 7.4h8zM460.7 1268.8l-4 7.4h8zM631.6 1138.3l-4 7.4h8zM379.9 1318.2l-4 7.4h8zM593.7 1264.7l-4 7.4h8zM683.9 1182.3l-4 7.4h8zM535.8 1306.7l-4 7.4h8zM581.3 1176.1l-4 7.4h8zM576.0 1271.9l-4 7.4h8zM476.8 1256.4l-4 7.4h8zM684.5 1103.4l-4 7.4h8zM651.9 1215.3l-4 7.4h8zM522.2 1225.3l-4 7.4h8zM678.4 1110.1l-4 7.4h8zM680.3 1198.2l-4 7.4h8zM580.1 1176.0l-4 7.4h8zM653.5 1138.8l-4 7.4h8zM581.4 1265.8l-4 7.4h8zM515.7 1230.5l-4 7.4h8zM548.9 1204.5l-4 7.4h8zM505.9 1228.3l-4 7.4h8zM418.8 1382.2l-4 7.4h8zM522.3 1305.1l-4 7.4h8zM453.1 1357.0l-4 7.4h8zM504.1 1319.6l-4 7.4h8zM499.2 1232.4l-4 7.4h8zM616.3 1150.7l-4 7.4h8zM527.1 1220.3l-4 7.4h8zM645.1 1227.0l-4 7.4h8zM385.6 1328.1l-4 7.4h8zM434.9 1380.1l-4 7.4h8zM659.3 1215.4l-4 7.4h8zM544.1 1207.1l-4 7.4h8zM463.9 1264.2l-4 7.4h8zM651.0 1136.3l-4 7.4h8zM480.8 1351.0l-4 7.4h8zM402.2 1376.0l-4 7.4h8zM420.0 1373.1l-4 7.4h8zM612.6 1161.2l-4 7.4h8zM597.7 1171.2l-4 7.4h8zM372.4 1383.0l-4 7.4h8zM685.1 1107.4l-4 7.4h8zM517.4 1309.3l-4 7.4h8zM611.9 1159.2l-4 7.4h8zM497.1 1333.1l-4 7.4h8zM535.4 1207.8l-4 7.4h8zM437.5 1283.0l-4 7.4h8zM501.4 1229.5l-4 7.4h8zM465.4 1259.8l-4 7.4h8zM561.0 1196.0l-4 7.4h8zM509.9 1314.8l-4 7.4h8zM373.2 1375.9l-4 7.4h8zM383.2 1376.9l-4 7.4h8zM476.6 1247.8l-4 7.4h8zM619.3 1133.4l-4 7.4h8zM391.2 1315.5l-4 7.4h8zM379.3 1377.3l-4 7.4h8zM530.3 1219.5l-4 7.4h8zM567.4 1276.9l-4 7.4h8zM616.0 1149.7l-4 7.4h8zM571.4 1273.3l-4 7.4h8zM476.4 1245.8l-4 7.4h8zM466.5 1263.9l-4 7.4h8zM590.7 1171.9l-4 7.4h8zM559.4 1197.3l-4 7.4h8zM417.0 1379.9l-4 7.4h8zM546.5 1299.0l-4 7.4h8zM440.8 1369.1l-4 7.4h8zM399.2 1379.5l-4 7.4h8zM414.1 1376.9l-4 7.4h8zM424.8 1299.1l-4 7.4h8zM425.0 1301.5l-4 7.4h8zM686.9 1182.2l-4 7.4h8zM593.9 1263.8l-4 7.4h8zM462.9 1259.0l-4 7.4h8zM498.3 1235.3l-4 7.4h8zM489.7 1341.9l-4 7.4h8zM602.3 1166.2l-4 7.4h8zM632.8 1137.1l-4 7.4h8zM559.8 1281.4l-4 7.4h8zM579.0 1173.1l-4 7.4h8zM633.1 1135.8l-4 7.4h8zM428.8 1297.3l-4 7.4h8zM397.1 1321.8l-4 7.4h8zM425.0 1381.4l-4 7.4h8zM625.2 1132.1l-4 7.4h8zM491.9 1339.4l-4 7.4h8zM663.2 1127.9l-4 7.4h8zM455.1 1267.9l-4 7.4h8zM381.4 1388.5l-4 7.4h8zM458.4 1265.6l-4 7.4h8zM366.6 1332.3l-4 7.4h8zM433.0 1281.7l-4 7.4h8zM636.2 1128.9l-4 7.4h8zM493.7 1339.6l-4 7.4h8zM498.3 1325.9l-4 7.4h8zM685.3 1194.0l-4 7.4h8zM525.3 1303.1l-4 7.4h8zM670.1 1121.9l-4 7.4h8zM413.5 1305.2l-4 7.4h8zM407.1 1376.0l-4 7.4h8zM427.3 1372.0l-4 7.4h8zM649.4 1219.1l-4 7.4h8zM658.4 1207.7l-4 7.4h8zM633.1 1134.0l-4 7.4h8zM667.8 1197.3l-4 7.4h8zM372.3 1329.7l-4 7.4h8zM567.8 1282.5l-4 7.4h8zM650.4 1214.4l-4 7.4h8zM685.2 1185.5l-4 7.4h8zM418.4 1308.1l-4 7.4h8zM500.0 1330.3l-4 7.4h8zM444.7 1363.6l-4 7.4h8zM400.0 1320.9l-4 7.4h8zM452.0 1274.4l-4 7.4h8zM610.8 1157.7l-4 7.4h8zM659.5 1130.6l-4 7.4h8zM653.6 1135.1l-4 7.4h8zM462.6 1352.5l-4 7.4h8zM640.6 1227.0l-4 7.4h8zM497.7 1233.5l-4 7.4h8zM567.0 1276.4l-4 7.4h8zM597.3 1259.6l-4 7.4h8zM657.8 1138.4l-4 7.4h8zM643.4 1219.0l-4 7.4h8zM655.2 1217.6l-4 7.4h8zM649.5 1217.0l-4 7.4h8zM622.8 1239.5l-4 7.4h8zM683.7 1183.2l-4 7.4h8zM564.8 1281.1l-4 7.4h8zM605.0 1167.4l-4 7.4h8zM438.6 1370.5l-4 7.4h8zM440.8 1374.2l-4 7.4h8zM574.7 1270.6l-4 7.4h8zM580.2 1178.5l-4 7.4h8zM413.9 1377.8l-4 7.4h8zM585.8 1264.7l-4 7.4h8zM514.5 1315.1l-4 7.4h8zM381.3 1379.7l-4 7.4h8zM593.5 1171.6l-4 7.4h8zM569.5 1188.2l-4 7.4h8zM648.3 1136.5l-4 7.4h8zM473.1 1348.7l-4 7.4h8zM621.8 1140.5l-4 7.4h8zM569.1 1284.3l-4 7.4h8zM482.1 1339.1l-4 7.4h8zM636.8 1232.2l-4 7.4h8zM403.4 1375.7l-4 7.4h8zM366.5 1334.9l-4 7.4h8zM373.1 1329.1l-4 7.4h8zM597.2 1259.4l-4 7.4h8zM365.1 1337.2l-4 7.4h8zM510.6 1221.5l-4 7.4h8zM643.2 1220.4l-4 7.4h8zM682.8 1106.5l-4 7.4h8zM411.9 1377.8l-4 7.4h8zM591.3 1162.8l-4 7.4h8zM490.5 1332.9l-4 7.4h8zM403.0 1315.4l-4 7.4h8zM689.8 1103.3l-4 7.4h8zM640.9 1226.5l-4 7.4h8zM578.0 1267.7l-4 7.4h8zM444.4 1282.2l-4 7.4h8zM375.7 1330.1l-4 7.4h8zM619.9 1140.2l-4 7.4h8zM573.7 1177.4l-4 7.4h8zM685.8 1185.6l-4 7.4h8zM617.9 1245.9l-4 7.4h8zM478.4 1343.1l-4 7.4h8zM603.1 1167.3l-4 7.4h8zM629.0 1133.5l-4 7.4h8zM576.7 1270.9l-4 7.4h8zM595.8 1166.9l-4 7.4h8zM689.8 1103.8l-4 7.4h8zM611.6 1153.9l-4 7.4h8zM605.2 1167.1l-4 7.4h8zM553.0 1197.2l-4 7.4h8zM646.4 1138.0l-4 7.4h8zM624.1 1134.3l-4 7.4h8zM595.7 1169.0l-4 7.4h8zM434.0 1371.5l-4 7.4h8zM420.3 1306.9l-4 7.4h8zM536.0 1215.4l-4 7.4h8zM380.9 1385.3l-4 7.4h8zM391.5 1323.9l-4 7.4h8zM471.6 1355.5l-4 7.4h8zM649.3 1214.0l-4 7.4h8zM449.4 1361.7l-4 7.4h8zM645.7 1134.9l-4 7.4h8zM669.5 1118.7l-4 7.4h8zM614.7 1255.5l-4 7.4h8zM624.6 1139.4l-4 7.4h8zM408.3 1372.9l-4 7.4h8zM623.2 1245.4l-4 7.4h8zM565.5 1191.6l-4 7.4h8zM512.3 1221.4l-4 7.4h8zM574.4 1180.5l-4 7.4h8zM574.8 1179.5l-4 7.4h8zM672.3 1118.9l-4 7.4h8zM626.9 1239.2l-4 7.4h8zM534.2 1216.8l-4 7.4h8zM424.9 1378.6l-4 7.4h8zM493.4 1241.2l-4 7.4h8zM502.5 1322.0l-4 7.4h8zM683.0 1184.8l-4 7.4h8zM601.6 1167.0l-4 7.4h8zM541.2 1209.7l-4 7.4h8zM679.6 1110.0l-4 7.4h8zM482.4 1245.4l-4 7.4h8zM560.9 1284.3l-4 7.4h8zM632.4 1230.6l-4 7.4h8zM624.3 1240.5l-4 7.4h8zM685.7 1102.0l-4 7.4h8zM457.9 1355.9l-4 7.4h8zM661.2 1207.1l-4 7.4h8zM585.3 1176.9l-4 7.4h8zM528.3 1300.8l-4 7.4h8zM416.0 1305.3l-4 7.4h8zM611.7 1257.1l-4 7.4h8zM651.6 1219.0l-4 7.4h8zM496.7 1334.3l-4 7.4h8zM476.4 1351.9l-4 7.4h8zM687.5 1107.5l-4 7.4h8zM544.4 1205.6l-4 7.4h8zM520.0 1227.8l-4 7.4h8zM403.9 1378.8l-4 7.4h8zM557.7 1289.6l-4 7.4h8zM392.2 1321.2l-4 7.4h8zM362.6 1382.7l-4 7.4h8zM663.2 1131.6l-4 7.4h8zM679.5 1110.0l-4 7.4h8zM575.0 1182.9l-4 7.4h8zM508.2 1316.6l-4 7.4h8zM616.4 1246.1l-4 7.4h8zM397.3 1321.7l-4 7.4h8zM683.4 1103.6l-4 7.4h8zM383.2 1327.8l-4 7.4h8zM497.0 1235.8l-4 7.4h8zM371.6 1375.4l-4 7.4h8zM404.3 1377.0l-4 7.4h8zM397.2 1317.6l-4 7.4h8zM602.5 1252.7l-4 7.4h8zM539.0 1211.0l-4 7.4h8zM410.0 1303.3l-4 7.4h8zM620.8 1245.5l-4 7.4h8zM648.2 1137.5l-4 7.4h8zM572.2 1280.0l-4 7.4h8zM379.2 1322.4l-4 7.4h8zM589.4 1167.7l-4 7.4h8zM609.4 1164.0l-4 7.4h8zM388.1 1327.0l-4 7.4h8zM620.8 1248.2l-4 7.4h8zM409.4 1307.5l-4 7.4h8zM652.9 1141.2l-4 7.4h8zM674.0 1115.6l-4 7.4h8zM594.5 1171.8l-4 7.4h8zM475.6 1342.5l-4 7.4h8zM438.9 1279.8l-4 7.4h8zM545.4 1208.1l-4 7.4h8zM371.3 1333.7l-4 7.4h8zM602.8 1260.4l-4 7.4h8zM397.1 1382.1l-4 7.4h8zM594.8 1260.8l-4 7.4h8zM557.1 1195.7l-4 7.4h8zM607.1 1155.2l-4 7.4h8zM654.8 1210.4l-4 7.4h8zM446.5 1364.8l-4 7.4h8zM580.3 1182.4l-4 7.4h8zM439.6 1283.9l-4 7.4h8zM669.5 1195.0l-4 7.4h8zM671.2 1123.1l-4 7.4h8zM507.2 1219.8l-4 7.4h8zM647.8 1141.5l-4 7.4h8zM658.1 1209.1l-4 7.4h8zM395.1 1323.8l-4 7.4h8zM377.6 1328.5l-4 7.4h8zM661.9 1123.6l-4 7.4h8zM458.5 1359.0l-4 7.4h8zM363.7 1331.3l-4 7.4h8zM487.9 1237.5l-4 7.4h8zM671.4 1193.7l-4 7.4h8zM581.1 1174.4l-4 7.4h8zM665.5 1211.6l-4 7.4h8zM489.6 1341.0l-4 7.4h8zM525.5 1218.9l-4 7.4h8zM627.5 1238.0l-4 7.4h8zM440.1 1369.5l-4 7.4h8zM491.2 1243.3l-4 7.4h8zM624.5 1129.7l-4 7.4h8zM389.4 1322.8l-4 7.4h8zM581.5 1179.7l-4 7.4h8zM366.0 1333.3l-4 7.4h8zM383.3 1322.2l-4 7.4h8zM619.8 1136.1l-4 7.4h8zM628.7 1233.1l-4 7.4h8zM434.0 1288.8l-4 7.4h8zM535.5 1296.6l-4 7.4h8zM651.1 1138.9l-4 7.4h8zM457.2 1354.9l-4 7.4h8zM614.3 1255.2l-4 7.4h8zM531.6 1218.1l-4 7.4h8zM444.1 1281.8l-4 7.4h8zM672.1 1112.1l-4 7.4h8zM614.7 1150.3l-4 7.4h8zM513.2 1220.8l-4 7.4h8zM502.4 1226.0l-4 7.4h8zM397.7 1317.9l-4 7.4h8zM670.4 1119.0l-4 7.4h8zM685.1 1106.5l-4 7.4h8zM396.7 1319.6l-4 7.4h8zM602.9 1257.7l-4 7.4h8zM441.2 1280.4l-4 7.4h8zM398.3 1318.6l-4 7.4h8zM416.7 1305.4l-4 7.4h8zM645.2 1218.9l-4 7.4h8zM551.0 1197.5l-4 7.4h8zM537.9 1300.6l-4 7.4h8zM395.5 1314.8l-4 7.4h8zM657.7 1127.6l-4 7.4h8zM579.5 1181.0l-4 7.4h8zM425.4 1371.5l-4 7.4h8zM617.8 1142.4l-4 7.4h8zM384.2 1378.5l-4 7.4h8zM574.9 1185.1l-4 7.4h8zM404.7 1382.0l-4 7.4h8zM465.3 1260.9l-4 7.4h8zM448.9 1277.8l-4 7.4h8zM622.0 1240.4l-4 7.4h8zM649.6 1139.1l-4 7.4h8zM372.3 1383.2l-4 7.4h8zM461.3 1262.4l-4 7.4h8zM647.6 1220.3l-4 7.4h8zM471.4 1256.1l-4 7.4h8zM399.7 1319.4l-4 7.4h8zM429.4 1371.6l-4 7.4h8zM659.1 1133.3l-4 7.4h8zM507.7 1226.4l-4 7.4h8zM476.1 1251.1l-4 7.4h8zM470.4 1347.7l-4 7.4h8zM599.3 1260.9l-4 7.4h8zM528.3 1306.5l-4 7.4h8zM528.0 1221.0l-4 7.4h8zM480.1 1253.3l-4 7.4h8zM646.8 1216.8l-4 7.4h8zM645.0 1226.8l-4 7.4h8zM623.5 1241.4l-4 7.4h8zM450.4 1360.7l-4 7.4h8zM508.9 1313.2l-4 7.4h8zM459.5 1352.6l-4 7.4h8zM549.6 1289.5l-4 7.4h8zM403.2 1373.9l-4 7.4h8zM654.1 1216.5l-4 7.4h8zM568.1 1275.1l-4 7.4h8zM680.1 1187.9l-4 7.4h8zM461.1 1271.2l-4 7.4h8zM467.9 1257.0l-4 7.4h8zM641.3 1226.9l-4 7.4h8zM402.8 1375.6l-4 7.4h8zM500.3 1227.8l-4 7.4h8zM404.1 1374.3l-4 7.4h8zM442.3 1280.5l-4 7.4h8zM430.5 1295.2l-4 7.4h8zM688.7 1184.2l-4 7.4h8zM532.6 1301.3l-4 7.4h8zM370.4 1376.8l-4 7.4h8zM524.0 1217.1l-4 7.4h8zM388.5 1316.9l-4 7.4h8zM430.7 1284.9l-4 7.4h8zM580.3 1274.6l-4 7.4h8zM383.9 1325.1l-4 7.4h8zM640.7 1223.1l-4 7.4h8zM510.2 1229.1l-4 7.4h8zM519.3 1223.0l-4 7.4h8zM664.0 1204.0l-4 7.4h8zM420.0 1380.1l-4 7.4h8zM646.9 1224.6l-4 7.4h8zM425.0 1299.4l-4 7.4h8zM466.8 1351.9l-4 7.4h8zM530.0 1219.4l-4 7.4h8zM488.2 1336.1l-4 7.4h8zM386.5 1376.1l-4 7.4h8zM657.6 1136.6l-4 7.4h8zM614.1 1156.1l-4 7.4h8zM620.9 1245.6l-4 7.4h8zM520.2 1228.4l-4 7.4h8zM535.7 1206.4l-4 7.4h8zM451.5 1275.5l-4 7.4h8zM585.8 1268.4l-4 7.4h8zM481.9 1252.9l-4 7.4h8zM577.4 1182.6l-4 7.4h8zM498.9 1235.1l-4 7.4h8zM378.5 1323.1l-4 7.4h8zM485.8 1244.9l-4 7.4h8zM422.9 1301.5l-4 7.4h8zM509.7 1318.2l-4 7.4h8zM367.3 1326.0l-4 7.4h8zM520.9 1224.4l-4 7.4h8zM420.5 1372.0l-4 7.4h8zM460.2 1266.3l-4 7.4h8zM413.1 1297.6l-4 7.4h8zM465.1 1257.3l-4 7.4h8zM529.8 1297.7l-4 7.4h8zM664.7 1123.1l-4 7.4h8zM593.0 1260.6l-4 7.4h8zM475.5 1343.6l-4 7.4h8zM459.0 1353.8l-4 7.4h8zM677.4 1112.0l-4 7.4h8zM618.5 1143.1l-4 7.4h8zM612.1 1248.6l-4 7.4h8zM443.2 1279.3l-4 7.4h8zM513.3 1230.6l-4 7.4h8zM589.5 1174.5l-4 7.4h8zM485.5 1336.4l-4 7.4h8zM564.5 1280.3l-4 7.4h8zM419.8 1299.9l-4 7.4h8zM554.8 1287.3l-4 7.4h8zM482.0 1350.7l-4 7.4h8zM621.1 1134.0l-4 7.4h8zM421.5 1377.5l-4 7.4h8zM631.7 1138.1l-4 7.4h8zM509.5 1315.4l-4 7.4h8zM463.6 1260.0l-4 7.4h8zM519.0 1224.3l-4 7.4h8zM404.0 1375.1l-4 7.4h8zM662.8 1207.9l-4 7.4h8zM452.4 1276.4l-4 7.4h8zM402.7 1311.4l-4 7.4h8zM594.3 1168.8l-4 7.4h8zM476.1 1254.5l-4 7.4h8zM617.3 1139.9l-4 7.4h8zM565.8 1191.7l-4 7.4h8zM382.5 1381.7l-4 7.4h8zM602.5 1164.9l-4 7.4h8zM385.7 1326.6l-4 7.4h8zM518.6 1225.9l-4 7.4h8zM501.4 1328.4l-4 7.4h8zM524.2 1303.8l-4 7.4h8zM529.7 1301.9l-4 7.4h8zM628.7 1235.0l-4 7.4h8zM489.7 1243.2l-4 7.4h8zM657.7 1137.6l-4 7.4h8zM659.6 1205.3l-4 7.4h8zM642.6 1222.0l-4 7.4h8zM542.3 1294.6l-4 7.4h8zM667.2 1198.5l-4 7.4h8zM517.4 1228.8l-4 7.4h8zM662.9 1210.6l-4 7.4h8zM407.0 1306.8l-4 7.4h8zM447.0 1278.4l-4 7.4h8zM500.0 1330.9l-4 7.4h8zM373.0 1328.4l-4 7.4h8zM539.5 1204.6l-4 7.4h8zM591.7 1258.9l-4 7.4h8zM546.5 1206.4l-4 7.4h8zM401.2 1316.3l-4 7.4h8zM602.9 1254.0l-4 7.4h8zM458.3 1362.6l-4 7.4h8zM367.4 1378.1l-4 7.4h8zM417.1 1308.8l-4 7.4h8zM587.6 1173.5l-4 7.4h8zM424.7 1305.6l-4 7.4h8zM366.5 1327.1l-4 7.4h8zM562.4 1286.6l-4 7.4h8zM371.2 1331.2l-4 7.4h8zM591.1 1259.4l-4 7.4h8zM566.7 1281.5l-4 7.4h8zM505.1 1231.4l-4 7.4h8zM675.4 1198.0l-4 7.4h8zM413.8 1297.4l-4 7.4h8zM552.0 1286.6l-4 7.4h8zM609.3 1254.8l-4 7.4h8zM434.6 1282.7l-4 7.4h8zM450.2 1359.1l-4 7.4h8zM433.5 1372.2l-4 7.4h8zM658.7 1134.6l-4 7.4h8zM417.1 1374.5l-4 7.4h8zM623.4 1242.6l-4 7.4h8zM471.1 1347.2l-4 7.4h8zM368.2 1377.9l-4 7.4h8zM513.6 1309.7l-4 7.4h8zM596.5 1257.3l-4 7.4h8zM376.2 1330.8l-4 7.4h8zM370.2 1323.4l-4 7.4h8zM540.7 1205.0l-4 7.4h8zM474.3 1353.5l-4 7.4h8zM530.9 1298.1l-4 7.4h8zM584.9 1176.7l-4 7.4h8zM580.0 1268.4l-4 7.4h8zM608.9 1253.8l-4 7.4h8zM686.5 1104.7l-4 7.4h8zM545.2 1292.8l-4 7.4h8zM600.2 1254.0l-4 7.4h8zM688.3 1182.6l-4 7.4h8zM565.0 1284.7l-4 7.4h8zM458.2 1273.2l-4 7.4h8zM601.0 1169.1l-4 7.4h8zM551.4 1201.6l-4 7.4h8zM589.7 1263.9l-4 7.4h8zM445.0 1363.4l-4 7.4h8zM607.1 1159.5l-4 7.4h8zM685.0 1181.3l-4 7.4h8zM382.4 1329.5l-4 7.4h8zM581.7 1273.5l-4 7.4h8zM656.2 1214.8l-4 7.4h8zM453.7 1270.7l-4 7.4h8zM639.9 1134.4l-4 7.4h8zM369.7 1329.4l-4 7.4h8zM514.3 1312.1l-4 7.4h8zM571.0 1183.8l-4 7.4h8zM625.5 1136.3l-4 7.4h8zM395.0 1376.5l-4 7.4h8zM652.7 1210.9l-4 7.4h8zM572.1 1275.6l-4 7.4h8zM625.5 1237.0l-4 7.4h8zM643.3 1132.0l-4 7.4h8zM444.8 1365.4l-4 7.4h8zM561.7 1285.0l-4 7.4h8zM601.7 1264.9l-4 7.4h8zM590.0 1168.2l-4 7.4h8zM679.9 1109.4l-4 7.4h8zM670.7 1123.5l-4 7.4h8zM502.3 1232.9l-4 7.4h8zM667.4 1205.0l-4 7.4h8zM547.0 1204.6l-4 7.4h8zM390.3 1378.5l-4 7.4h8zM466.7 1261.6l-4 7.4h8zM445.3 1366.4l-4 7.4h8zM617.1 1250.6l-4 7.4h8zM585.2 1263.4l-4 7.4h8zM413.2 1299.5l-4 7.4h8zM471.9 1347.3l-4 7.4h8zM432.9 1290.6l-4 7.4h8zM664.0 1129.8l-4 7.4h8zM571.7 1275.0l-4 7.4h8zM477.0 1349.2l-4 7.4h8zM390.6 1381.0l-4 7.4h8zM515.4 1317.2l-4 7.4h8zM373.1 1329.2l-4 7.4h8zM536.8 1215.2l-4 7.4h8zM612.7 1155.4l-4 7.4h8zM505.6 1227.3l-4 7.4h8zM608.2 1249.0l-4 7.4h8zM634.9 1230.3l-4 7.4h8zM415.7 1307.9l-4 7.4h8zM559.5 1195.0l-4 7.4h8zM504.5 1330.4l-4 7.4h8zM652.1 1140.9l-4 7.4h8zM619.9 1241.0l-4 7.4h8zM413.5 1305.7l-4 7.4h8zM596.8 1261.2l-4 7.4h8zM391.3 1321.9l-4 7.4h8zM597.2 1267.3l-4 7.4h8zM557.8 1285.1l-4 7.4h8zM472.1 1344.6l-4 7.4h8zM377.5 1329.1l-4 7.4h8zM543.2 1297.2l-4 7.4h8zM567.7 1278.0l-4 7.4h8zM454.4 1272.7l-4 7.4h8zM516.0 1220.1l-4 7.4h8zM484.6 1250.7l-4 7.4h8zM608.3 1164.0l-4 7.4h8zM644.7 1218.5l-4 7.4h8zM543.1 1290.4l-4 7.4h8zM410.4 1307.4l-4 7.4h8zM529.2 1300.0l-4 7.4h8zM633.7 1231.1l-4 7.4h8zM507.5 1321.3l-4 7.4h8zM635.3 1132.4l-4 7.4h8zM630.0 1236.2l-4 7.4h8zM507.2 1229.9l-4 7.4h8zM670.9 1119.9l-4 7.4h8zM648.4 1221.2l-4 7.4h8zM554.6 1286.0l-4 7.4h8zM646.5 1228.8l-4 7.4h8zM603.7 1166.0l-4 7.4h8zM503.5 1320.7l-4 7.4h8zM609.4 1162.4l-4 7.4h8zM647.0 1135.0l-4 7.4h8zM483.9 1340.9l-4 7.4h8zM629.6 1236.9l-4 7.4h8zM533.8 1217.5l-4 7.4h8zM485.8 1242.9l-4 7.4h8zM534.7 1216.1l-4 7.4h8zM511.5 1228.3l-4 7.4h8zM623.4 1139.7l-4 7.4h8zM379.1 1325.4l-4 7.4h8zM485.7 1340.5l-4 7.4h8zM491.2 1337.8l-4 7.4h8zM671.0 1193.8l-4 7.4h8zM631.8 1237.2l-4 7.4h8zM589.9 1265.9l-4 7.4h8zM554.2 1286.9l-4 7.4h8zM637.8 1224.9l-4 7.4h8zM608.3 1256.8l-4 7.4h8zM484.9 1240.4l-4 7.4h8zM410.5 1307.8l-4 7.4h8zM410.7 1373.7l-4 7.4h8zM459.8 1355.6l-4 7.4h8zM673.1 1117.2l-4 7.4h8zM616.7 1149.4l-4 7.4h8zM549.2 1194.0l-4 7.4h8zM486.0 1336.1l-4 7.4h8zM414.7 1300.8l-4 7.4h8zM418.5 1303.6l-4 7.4h8zM432.3 1371.6l-4 7.4h8zM527.1 1306.3l-4 7.4h8zM444.7 1372.0l-4 7.4h8zM573.3 1183.7l-4 7.4h8zM653.2 1141.6l-4 7.4h8zM688.0 1104.7l-4 7.4h8zM586.7 1171.0l-4 7.4h8zM432.0 1377.6l-4 7.4h8zM552.1 1291.6l-4 7.4h8zM504.7 1328.1l-4 7.4h8zM499.3 1232.6l-4 7.4h8zM398.5 1322.2l-4 7.4h8zM563.1 1195.0l-4 7.4h8zM379.5 1385.8l-4 7.4h8zM531.3 1213.9l-4 7.4h8zM652.7 1141.0l-4 7.4h8zM685.6 1181.0l-4 7.4h8zM480.7 1343.2l-4 7.4h8zM492.9 1236.9l-4 7.4h8zM480.1 1248.9l-4 7.4h8zM615.9 1148.6l-4 7.4h8zM673.1 1118.6l-4 7.4h8zM586.8 1261.8l-4 7.4h8zM380.2 1380.2l-4 7.4h8zM600.3 1258.7l-4 7.4h8zM591.9 1163.6l-4 7.4h8zM438.0 1287.9l-4 7.4h8zM365.4 1378.5l-4 7.4h8zM634.9 1134.7l-4 7.4h8zM436.4 1290.2l-4 7.4h8zM610.5 1162.4l-4 7.4h8zM659.6 1130.6l-4 7.4h8zM624.4 1137.6l-4 7.4h8zM638.6 1131.9l-4 7.4h8zM498.0 1229.3l-4 7.4h8zM444.9 1367.2l-4 7.4h8zM517.5 1226.4l-4 7.4h8zM686.1 1104.8l-4 7.4h8zM530.8 1219.8l-4 7.4h8zM675.5 1115.8l-4 7.4h8zM680.1 1111.7l-4 7.4h8zM381.8 1325.6l-4 7.4h8zM438.7 1278.4l-4 7.4h8zM538.6 1211.1l-4 7.4h8zM423.0 1308.0l-4 7.4h8zM565.7 1283.6l-4 7.4h8zM480.9 1246.8l-4 7.4h8zM602.9 1260.5l-4 7.4h8zM519.1 1302.2l-4 7.4h8zM618.7 1252.0l-4 7.4h8zM511.8 1315.2l-4 7.4h8zM628.6 1238.7l-4 7.4h8zM446.4 1372.1l-4 7.4h8zM611.9 1151.7l-4 7.4h8zM633.7 1130.2l-4 7.4h8zM513.4 1225.5l-4 7.4h8zM535.3 1213.7l-4 7.4h8zM392.1 1317.7l-4 7.4h8zM471.0 1259.9l-4 7.4h8zM533.6 1213.8l-4 7.4h8zM661.2 1212.0l-4 7.4h8zM617.4 1243.6l-4 7.4h8zM395.7 1318.0l-4 7.4h8zM683.6 1110.0l-4 7.4h8zM608.5 1163.3l-4 7.4h8zM503.4 1225.9l-4 7.4h8zM602.3 1163.2l-4 7.4h8zM377.3 1329.0l-4 7.4h8zM501.4 1232.5l-4 7.4h8zM531.9 1219.3l-4 7.4h8zM600.0 1167.8l-4 7.4h8zM592.2 1263.6l-4 7.4h8zM663.7 1202.4l-4 7.4h8zM598.5 1258.1l-4 7.4h8zM452.4 1274.7l-4 7.4h8zM368.9 1380.9l-4 7.4h8zM423.5 1305.4l-4 7.4h8zM487.3 1336.5l-4 7.4h8zM542.4 1294.6l-4 7.4h8zM458.8 1362.2l-4 7.4h8zM438.9 1288.0l-4 7.4h8zM558.1 1195.2l-4 7.4h8zM639.2 1128.1l-4 7.4h8zM374.5 1326.0l-4 7.4h8zM433.2 1288.2l-4 7.4h8zM427.9 1374.0l-4 7.4h8zM510.3 1226.3l-4 7.4h8zM622.4 1239.7l-4 7.4h8zM660.3 1133.6l-4 7.4h8zM679.2 1113.3l-4 7.4h8zM617.1 1147.7l-4 7.4h8zM530.3 1299.5l-4 7.4h8zM635.4 1131.6l-4 7.4h8zM421.9 1372.3l-4 7.4h8zM372.6 1380.0l-4 7.4h8zM370.1 1327.4l-4 7.4h8zM488.7 1334.7l-4 7.4h8zM365.6 1334.6l-4 7.4h8zM459.5 1270.6l-4 7.4h8zM460.2 1351.8l-4 7.4h8zM528.2 1304.9l-4 7.4h8zM629.4 1137.1l-4 7.4h8zM442.4 1369.2l-4 7.4h8zM582.4 1269.7l-4 7.4h8zM437.7 1286.4l-4 7.4h8zM669.3 1198.7l-4 7.4h8zM489.4 1337.6l-4 7.4h8zM631.0 1235.0l-4 7.4h8zM478.8 1252.6l-4 7.4h8zM665.3 1205.9l-4 7.4h8zM487.8 1244.7l-4 7.4h8zM483.5 1250.1l-4 7.4h8zM688.4 1105.5l-4 7.4h8zM609.6 1157.6l-4 7.4h8zM660.9 1131.9l-4 7.4h8zM610.1 1163.3l-4 7.4h8zM674.8 1117.2l-4 7.4h8zM470.0 1355.1l-4 7.4h8zM477.3 1344.3l-4 7.4h8zM603.8 1167.4l-4 7.4h8zM460.1 1352.4l-4 7.4h8zM412.5 1299.5l-4 7.4h8zM615.1 1152.4l-4 7.4h8zM512.8 1229.9l-4 7.4h8zM569.7 1189.3l-4 7.4h8zM436.9 1285.6l-4 7.4h8zM528.6 1212.2l-4 7.4h8zM502.5 1231.7l-4 7.4h8zM623.8 1134.9l-4 7.4h8zM367.4 1327.2l-4 7.4h8zM587.8 1171.8l-4 7.4h8zM445.8 1362.4l-4 7.4h8zM368.5 1334.0l-4 7.4h8zM414.5 1381.6l-4 7.4h8zM683.7 1106.1l-4 7.4h8zM539.1 1295.5l-4 7.4h8zM620.3 1247.6l-4 7.4h8zM430.8 1372.8l-4 7.4h8zM671.1 1205.5l-4 7.4h8zM532.1 1218.1l-4 7.4h8zM573.2 1177.6l-4 7.4h8zM368.2 1332.4l-4 7.4h8zM488.4 1338.3l-4 7.4h8zM453.3 1360.4l-4 7.4h8zM599.7 1165.9l-4 7.4h8zM464.6 1349.9l-4 7.4h8zM395.6 1314.7l-4 7.4h8zM474.2 1343.7l-4 7.4h8zM389.2 1381.3l-4 7.4h8zM438.3 1374.0l-4 7.4h8zM451.1 1366.8l-4 7.4h8zM383.2 1328.3l-4 7.4h8zM464.5 1351.6l-4 7.4h8zM671.2 1199.6l-4 7.4h8zM487.4 1334.6l-4 7.4h8zM533.3 1213.3l-4 7.4h8zM447.6 1370.1l-4 7.4h8zM551.5 1291.1l-4 7.4h8zM546.8 1198.7l-4 7.4h8zM444.2 1368.7l-4 7.4h8zM380.2 1385.8l-4 7.4h8zM436.1 1369.8l-4 7.4h8zM406.7 1307.9l-4 7.4h8zM458.9 1353.2l-4 7.4h8zM363.1 1376.0l-4 7.4h8zM577.6 1274.5l-4 7.4h8zM423.8 1381.8l-4 7.4h8zM579.8 1180.4l-4 7.4h8zM448.6 1277.2l-4 7.4h8zM620.7 1140.5l-4 7.4h8zM392.3 1377.7l-4 7.4h8zM379.9 1323.3l-4 7.4h8zM633.3 1228.0l-4 7.4h8zM391.1 1324.9l-4 7.4h8zM560.5 1190.2l-4 7.4h8zM420.8 1301.3l-4 7.4h8zM644.5 1136.5l-4 7.4h8zM652.8 1142.1l-4 7.4h8zM485.5 1238.7l-4 7.4h8zM380.9 1323.5l-4 7.4h8zM594.6 1170.4l-4 7.4h8zM529.5 1300.3l-4 7.4h8zM371.0 1327.6l-4 7.4h8zM573.0 1186.4l-4 7.4h8zM416.3 1298.3l-4 7.4h8zM448.4 1364.7l-4 7.4h8zM621.0 1138.4l-4 7.4h8zM535.7 1301.0l-4 7.4h8zM565.7 1280.6l-4 7.4h8zM535.9 1211.3l-4 7.4h8zM678.5 1192.5l-4 7.4h8zM682.0 1107.0l-4 7.4h8zM589.1 1261.9l-4 7.4h8zM467.5 1359.0l-4 7.4h8zM657.5 1207.1l-4 7.4h8zM463.6 1353.6l-4 7.4h8zM527.4 1299.1l-4 7.4h8zM373.2 1377.0l-4 7.4h8zM599.4 1257.8l-4 7.4h8zM366.3 1379.1l-4 7.4h8zM653.0 1210.8l-4 7.4h8zM615.9 1243.6l-4 7.4h8zM464.8 1267.4l-4 7.4h8zM586.0 1267.8l-4 7.4h8zM489.6 1245.6l-4 7.4h8zM558.4 1191.9l-4 7.4h8zM477.3 1252.6l-4 7.4h8zM590.7 1265.4l-4 7.4h8zM412.9 1381.3l-4 7.4h8zM371.0 1334.8l-4 7.4h8zM432.3 1291.3l-4 7.4h8zM600.2 1253.9l-4 7.4h8zM396.1 1314.9l-4 7.4h8zM456.5 1271.1l-4 7.4h8zM514.2 1307.6l-4 7.4h8zM676.1 1112.4l-4 7.4h8zM382.9 1380.6l-4 7.4h8zM627.0 1240.4l-4 7.4h8zM370.2 1329.3l-4 7.4h8zM628.5 1233.8l-4 7.4h8zM630.4 1133.5l-4 7.4h8zM370.5 1334.6l-4 7.4h8zM558.4 1196.5l-4 7.4h8zM609.5 1163.1l-4 7.4h8zM622.5 1246.2l-4 7.4h8zM578.0 1275.1l-4 7.4h8zM437.2 1378.4l-4 7.4h8zM380.1 1328.8l-4 7.4h8zM678.3 1193.4l-4 7.4h8zM622.0 1241.7l-4 7.4h8zM661.6 1128.6l-4 7.4h8zM629.5 1239.9l-4 7.4h8zM665.6 1203.9l-4 7.4h8zM587.2 1172.0l-4 7.4h8zM621.8 1137.3l-4 7.4h8zM606.8 1255.3l-4 7.4h8zM476.5 1247.5l-4 7.4h8zM417.1 1306.9l-4 7.4h8zM586.7 1262.0l-4 7.4h8zM570.9 1277.5l-4 7.4h8zM486.4 1243.6l-4 7.4h8zM636.9 1136.5l-4 7.4h8zM463.5 1264.7l-4 7.4h8zM638.2 1232.5l-4 7.4h8zM478.0 1340.7l-4 7.4h8zM587.1 1173.1l-4 7.4h8zM551.3 1199.1l-4 7.4h8zM442.7 1367.8l-4 7.4h8zM421.7 1374.7l-4 7.4h8zM385.9 1376.6l-4 7.4h8zM669.2 1195.7l-4 7.4h8zM510.1 1226.7l-4 7.4h8zM634.8 1233.9l-4 7.4h8zM571.0 1189.7l-4 7.4h8zM417.8 1308.7l-4 7.4h8zM454.3 1357.2l-4 7.4h8zM472.8 1251.3l-4 7.4h8zM394.9 1322.7l-4 7.4h8zM407.9 1374.5l-4 7.4h8zM375.0 1383.5l-4 7.4h8zM523.7 1301.1l-4 7.4h8zM388.4 1322.0l-4 7.4h8zM592.4 1170.5l-4 7.4h8zM373.1 1327.2l-4 7.4h8zM496.6 1239.6l-4 7.4h8zM558.8 1291.5l-4 7.4h8zM642.7 1226.5l-4 7.4h8zM626.8 1136.8l-4 7.4h8zM613.4 1159.3l-4 7.4h8zM559.6 1190.4l-4 7.4h8zM572.8 1188.0l-4 7.4h8zM629.0 1232.5l-4 7.4h8zM481.8 1343.3l-4 7.4h8zM371.4 1331.2l-4 7.4h8zM681.9 1101.2l-4 7.4h8zM410.3 1372.8l-4 7.4h8zM646.7 1131.7l-4 7.4h8zM434.6 1369.6l-4 7.4h8zM455.2 1360.9l-4 7.4h8zM442.3 1282.7l-4 7.4h8zM551.2 1191.8l-4 7.4h8zM661.1 1135.2l-4 7.4h8zM653.1 1213.8l-4 7.4h8zM466.0 1354.8l-4 7.4h8zM612.1 1157.0l-4 7.4h8zM366.2 1382.0l-4 7.4h8zM670.5 1112.4l-4 7.4h8zM558.2 1284.3l-4 7.4h8zM384.1 1327.8l-4 7.4h8zM683.9 1106.5l-4 7.4h8zM644.3 1135.7l-4 7.4h8zM458.3 1353.5l-4 7.4h8zM671.3 1196.4l-4 7.4h8zM362.8 1331.7l-4 7.4h8zM373.7 1379.3l-4 7.4h8zM393.6 1380.8l-4 7.4h8zM502.5 1324.3l-4 7.4h8zM619.4 1136.8l-4 7.4h8zM541.1 1295.1l-4 7.4h8zM670.1 1204.8l-4 7.4h8zM412.0 1377.7l-4 7.4h8zM598.0 1258.7l-4 7.4h8zM364.1 1377.1l-4 7.4h8zM521.6 1304.7l-4 7.4h8zM665.4 1202.8l-4 7.4h8zM607.8 1254.3l-4 7.4h8zM372.8 1381.1l-4 7.4h8zM662.0 1129.3l-4 7.4h8zM637.3 1228.5l-4 7.4h8zM549.6 1198.4l-4 7.4h8zM481.7 1343.5l-4 7.4h8zM551.7 1291.4l-4 7.4h8zM514.1 1228.6l-4 7.4h8zM538.0 1294.0l-4 7.4h8zM508.2 1317.4l-4 7.4h8zM574.2 1270.7l-4 7.4h8zM448.2 1367.3l-4 7.4h8zM526.8 1222.9l-4 7.4h8zM456.7 1360.1l-4 7.4h8zM374.9 1376.5l-4 7.4h8zM457.5 1273.5l-4 7.4h8zM528.4 1219.1l-4 7.4h8zM513.5 1228.7l-4 7.4h8zM554.6 1199.0l-4 7.4h8zM483.0 1241.4l-4 7.4h8zM450.0 1275.5l-4 7.4h8zM537.4 1299.5l-4 7.4h8zM638.2 1136.1l-4 7.4h8zM477.4 1345.0l-4 7.4h8zM496.7 1333.3l-4 7.4h8zM479.7 1339.6l-4 7.4h8zM413.5 1373.5l-4 7.4h8zM574.2 1272.9l-4 7.4h8zM449.6 1276.2l-4 7.4h8zM580.1 1266.4l-4 7.4h8zM536.6 1295.6l-4 7.4h8zM489.9 1340.5l-4 7.4h8zM512.0 1313.5l-4 7.4h8zM373.6 1328.4l-4 7.4h8zM619.8 1243.3l-4 7.4h8zM648.8 1133.1l-4 7.4h8zM620.8 1133.2l-4 7.4h8zM583.4 1264.1l-4 7.4h8zM673.4 1115.2l-4 7.4h8zM680.9 1189.6l-4 7.4h8zM584.0 1270.5l-4 7.4h8zM651.8 1142.2l-4 7.4h8zM409.6 1374.1l-4 7.4h8zM448.8 1369.8l-4 7.4h8zM460.3 1267.9l-4 7.4h8zM402.7 1374.1l-4 7.4h8zM653.7 1211.2l-4 7.4h8zM444.8 1362.9l-4 7.4h8zM399.3 1374.9l-4 7.4h8zM451.6 1360.4l-4 7.4h8zM516.6 1230.1l-4 7.4h8zM639.1 1137.9l-4 7.4h8zM644.8 1221.8l-4 7.4h8zM470.4 1346.9l-4 7.4h8zM498.4 1234.1l-4 7.4h8zM400.5 1384.0l-4 7.4h8zM474.3 1253.4l-4 7.4h8zM379.2 1324.9l-4 7.4h8zM518.7 1303.6l-4 7.4h8zM469.6 1358.4l-4 7.4h8zM378.4 1378.3l-4 7.4h8zM637.3 1135.9l-4 7.4h8zM592.6 1266.0l-4 7.4h8zM446.8 1273.0l-4 7.4h8zM485.3 1240.1l-4 7.4h8zM611.4 1157.3l-4 7.4h8zM539.8 1294.8l-4 7.4h8zM606.4 1250.4l-4 7.4h8zM643.1 1218.7l-4 7.4h8zM508.2 1222.7l-4 7.4h8zM630.0 1241.3l-4 7.4h8zM646.1 1224.1l-4 7.4h8zM574.1 1187.3l-4 7.4h8zM669.9 1116.7l-4 7.4h8zM380.2 1325.4l-4 7.4h8zM460.6 1270.8l-4 7.4h8zM569.4 1187.6l-4 7.4h8zM480.1 1349.4l-4 7.4h8zM556.9 1192.1l-4 7.4h8zM540.1 1208.8l-4 7.4h8zM596.7 1173.5l-4 7.4h8zM642.7 1132.2l-4 7.4h8zM662.6 1123.0l-4 7.4h8zM499.1 1234.9l-4 7.4h8zM494.0 1342.4l-4 7.4h8zM460.0 1263.8l-4 7.4h8zM618.8 1143.6l-4 7.4h8zM480.0 1248.8l-4 7.4h8zM481.4 1241.5l-4 7.4h8zM471.3 1346.0l-4 7.4h8zM594.2 1167.9l-4 7.4h8zM542.7 1205.2l-4 7.4h8zM434.7 1368.6l-4 7.4h8zM499.9 1331.0l-4 7.4h8zM520.9 1303.4l-4 7.4h8zM418.6 1298.5l-4 7.4h8zM680.3 1190.6l-4 7.4h8zM388.1 1322.9l-4 7.4h8zM382.4 1376.7l-4 7.4h8zM390.2 1324.8l-4 7.4h8zM688.0 1101.5l-4 7.4h8zM562.0 1281.0l-4 7.4h8zM648.3 1132.7l-4 7.4h8zM425.6 1374.3l-4 7.4h8zM446.9 1277.1l-4 7.4h8zM681.1 1189.3l-4 7.4h8zM558.4 1284.7l-4 7.4h8zM452.2 1271.3l-4 7.4h8zM643.5 1219.4l-4 7.4h8zM430.8 1372.5l-4 7.4h8zM488.6 1241.3l-4 7.4h8zM651.2 1142.2l-4 7.4h8zM620.5 1135.6l-4 7.4h8zM529.2 1215.5l-4 7.4h8zM477.4 1256.9l-4 7.4h8zM428.0 1298.4l-4 7.4h8zM514.4 1223.4l-4 7.4h8zM490.0 1341.6l-4 7.4h8zM379.7 1382.4l-4 7.4h8zM638.8 1139.6l-4 7.4h8zM377.1 1329.5l-4 7.4h8zM428.6 1374.2l-4 7.4h8zM452.3 1275.3l-4 7.4h8zM516.9 1304.1l-4 7.4h8zM446.0 1279.3l-4 7.4h8zM386.7 1326.6l-4 7.4h8zM586.1 1175.0l-4 7.4h8zM625.3 1247.0l-4 7.4h8zM492.3 1338.9l-4 7.4h8zM505.3 1326.8l-4 7.4h8zM405.0 1315.7l-4 7.4h8zM674.7 1113.3l-4 7.4h8zM631.8 1230.0l-4 7.4h8zM509.4 1313.7l-4 7.4h8zM511.9 1219.6l-4 7.4h8zM639.5 1131.4l-4 7.4h8zM427.9 1300.5l-4 7.4h8zM419.7 1375.9l-4 7.4h8zM495.1 1240.3l-4 7.4h8zM527.0 1308.3l-4 7.4h8zM433.7 1287.5l-4 7.4h8zM501.3 1235.3l-4 7.4h8zM602.2 1265.3l-4 7.4h8zM535.0 1211.2l-4 7.4h8zM616.0 1246.5l-4 7.4h8zM396.6 1318.2l-4 7.4h8zM493.8 1239.3l-4 7.4h8zM504.5 1326.6l-4 7.4h8zM571.0 1190.8l-4 7.4h8zM451.7 1362.3l-4 7.4h8zM511.7 1227.5l-4 7.4h8zM525.1 1225.4l-4 7.4h8zM533.7 1295.5l-4 7.4h8zM652.8 1143.3l-4 7.4h8zM431.3 1376.1l-4 7.4h8zM458.7 1356.4l-4 7.4h8zM525.7 1300.3l-4 7.4h8zM425.6 1379.1l-4 7.4h8zM552.2 1286.0l-4 7.4h8zM592.6 1259.3l-4 7.4h8zM461.7 1361.1l-4 7.4h8zM670.8 1122.1l-4 7.4h8zM648.6 1131.4l-4 7.4h8zM676.1 1193.0l-4 7.4h8zM449.7 1362.1l-4 7.4h8zM453.0 1274.2l-4 7.4h8zM430.0 1298.3l-4 7.4h8zM440.8 1282.6l-4 7.4h8zM440.8 1284.6l-4 7.4h8zM408.1 1307.9l-4 7.4h8zM521.7 1226.8l-4 7.4h8zM393.2 1319.1l-4 7.4h8zM380.5 1381.0l-4 7.4h8zM424.6 1376.4l-4 7.4h8zM400.2 1314.7l-4 7.4h8zM399.1 1385.4l-4 7.4h8zM563.7 1190.2l-4 7.4h8zM591.6 1266.5l-4 7.4h8zM569.4 1278.0l-4 7.4h8zM561.9 1193.8l-4 7.4h8zM381.6 1321.8l-4 7.4h8zM408.7 1376.6l-4 7.4h8zM423.1 1308.8l-4 7.4h8zM388.4 1377.5l-4 7.4h8zM688.9 1185.4l-4 7.4h8zM573.4 1275.4l-4 7.4h8zM517.8 1221.3l-4 7.4h8zM649.9 1136.9l-4 7.4h8zM627.8 1133.2l-4 7.4h8zM540.0 1204.5l-4 7.4h8zM568.8 1189.4l-4 7.4h8zM415.5 1378.1l-4 7.4h8zM459.9 1267.4l-4 7.4h8zM519.2 1230.5l-4 7.4h8zM643.1 1132.4l-4 7.4h8zM371.2 1388.2l-4 7.4h8zM675.7 1108.3l-4 7.4h8zM474.6 1347.6l-4 7.4h8zM449.4 1278.0l-4 7.4h8zM363.0 1377.2l-4 7.4h8zM655.1 1213.3l-4 7.4h8zM416.7 1373.0l-4 7.4h8zM432.3 1291.2l-4 7.4h8zM591.2 1267.5l-4 7.4h8zM460.2 1267.8l-4 7.4h8zM427.9 1377.4l-4 7.4h8zM499.7 1231.3l-4 7.4h8zM573.5 1278.4l-4 7.4h8zM684.3 1183.0l-4 7.4h8zM566.3 1189.5l-4 7.4h8zM662.9 1127.1l-4 7.4h8zM443.9 1364.9l-4 7.4h8zM527.0 1217.9l-4 7.4h8zM622.9 1242.8l-4 7.4h8zM647.0 1222.3l-4 7.4h8zM458.2 1270.8l-4 7.4h8zM534.0 1217.6l-4 7.4h8zM408.9 1376.9l-4 7.4h8zM568.7 1276.7l-4 7.4h8zM398.8 1318.3l-4 7.4h8zM427.7 1301.7l-4 7.4h8zM410.5 1376.4l-4 7.4h8zM531.9 1212.6l-4 7.4h8zM664.6 1205.5l-4 7.4h8zM660.7 1133.3l-4 7.4h8zM642.0 1224.7l-4 7.4h8zM543.3 1297.1l-4 7.4h8zM668.4 1197.3l-4 7.4h8zM481.1 1344.7l-4 7.4h8zM634.3 1136.6l-4 7.4h8zM459.2 1272.8l-4 7.4h8zM657.4 1215.5l-4 7.4h8zM536.3 1205.2l-4 7.4h8zM369.7 1385.5l-4 7.4h8zM477.3 1343.8l-4 7.4h8zM450.8 1268.1l-4 7.4h8zM434.8 1370.1l-4 7.4h8zM622.9 1244.8l-4 7.4h8zM577.4 1174.6l-4 7.4h8zM597.3 1258.7l-4 7.4h8zM458.6 1264.4l-4 7.4h8zM485.1 1247.4l-4 7.4h8zM566.9 1193.9l-4 7.4h8zM483.8 1246.8l-4 7.4h8zM415.0 1300.0l-4 7.4h8zM673.6 1117.8l-4 7.4h8zM494.8 1339.2l-4 7.4h8zM673.6 1117.7l-4 7.4h8zM627.4 1244.8l-4 7.4h8zM678.5 1107.1l-4 7.4h8zM418.6 1301.0l-4 7.4h8zM592.6 1169.7l-4 7.4h8zM454.9 1365.6l-4 7.4h8zM451.8 1274.0l-4 7.4h8zM415.0 1306.1l-4 7.4h8zM409.8 1376.9l-4 7.4h8zM403.6 1383.4l-4 7.4h8zM510.8 1223.0l-4 7.4h8zM406.2 1381.7l-4 7.4h8zM615.3 1149.9l-4 7.4h8zM671.5 1206.2l-4 7.4h8zM524.0 1221.8l-4 7.4h8zM566.5 1277.3l-4 7.4h8zM580.6 1268.4l-4 7.4h8zM562.9 1289.0l-4 7.4h8zM430.0 1293.6l-4 7.4h8zM641.1 1139.6l-4 7.4h8zM572.2 1271.9l-4 7.4h8zM555.5 1194.2l-4 7.4h8zM371.7 1328.2l-4 7.4h8zM611.5 1161.5l-4 7.4h8zM389.2 1378.3l-4 7.4h8zM668.6 1197.0l-4 7.4h8zM573.0 1274.6l-4 7.4h8zM474.1 1252.2l-4 7.4h8zM535.9 1212.4l-4 7.4h8zM416.1 1303.0l-4 7.4h8zM505.0 1226.6l-4 7.4h8zM384.1 1321.8l-4 7.4h8zM688.6 1186.9l-4 7.4h8zM650.9 1215.2l-4 7.4h8zM603.5 1166.5l-4 7.4h8zM408.2 1379.7l-4 7.4h8zM429.3 1379.0l-4 7.4h8zM411.5 1304.6l-4 7.4h8zM555.5 1287.8l-4 7.4h8zM412.4 1381.5l-4 7.4h8zM376.3 1327.7l-4 7.4h8zM578.2 1180.8l-4 7.4h8zM395.9 1319.7l-4 7.4h8zM579.4 1183.1l-4 7.4h8zM425.9 1374.3l-4 7.4h8zM616.2 1150.3l-4 7.4h8zM632.6 1138.0l-4 7.4h8zM521.1 1309.6l-4 7.4h8zM563.9 1184.4l-4 7.4h8zM400.4 1320.6l-4 7.4h8zM662.3 1212.9l-4 7.4h8zM566.0 1277.0l-4 7.4h8zM610.5 1247.3l-4 7.4h8zM598.3 1258.7l-4 7.4h8zM435.5 1288.5l-4 7.4h8zM508.0 1224.3l-4 7.4h8zM597.8 1169.5l-4 7.4h8zM658.2 1208.7l-4 7.4h8zM493.8 1234.9l-4 7.4h8zM581.0 1178.7l-4 7.4h8zM635.7 1137.3l-4 7.4h8zM681.3 1186.4l-4 7.4h8zM664.9 1129.7l-4 7.4h8zM687.6 1180.1l-4 7.4h8zM455.6 1358.5l-4 7.4h8zM463.1 1351.0l-4 7.4h8zM578.2 1181.5l-4 7.4h8zM609.2 1249.6l-4 7.4h8zM589.6 1174.6l-4 7.4h8zM599.8 1168.7l-4 7.4h8zM534.3 1217.0l-4 7.4h8zM478.4 1345.5l-4 7.4h8zM560.9 1194.3l-4 7.4h8zM650.9 1216.8l-4 7.4h8zM645.8 1218.9l-4 7.4h8zM458.9 1355.9l-4 7.4h8zM413.9 1307.6l-4 7.4h8zM548.0 1204.4l-4 7.4h8zM461.3 1268.6l-4 7.4h8zM516.6 1230.3l-4 7.4h8zM385.6 1325.1l-4 7.4h8zM606.0 1251.1l-4 7.4h8zM570.1 1187.3l-4 7.4h8zM577.9 1179.8l-4 7.4h8zM430.6 1287.8l-4 7.4h8zM487.1 1238.0l-4 7.4h8zM400.4 1318.9l-4 7.4h8zM536.2 1210.7l-4 7.4h8zM556.1 1197.8l-4 7.4h8zM600.1 1164.9l-4 7.4h8zM621.0 1242.5l-4 7.4h8zM676.9 1192.3l-4 7.4h8zM461.2 1354.8l-4 7.4h8zM484.9 1337.7l-4 7.4h8zM553.7 1195.4l-4 7.4h8zM596.0 1263.7l-4 7.4h8zM552.9 1294.5l-4 7.4h8zM467.0 1350.7l-4 7.4h8zM504.8 1321.0l-4 7.4h8zM540.5 1296.0l-4 7.4h8zM365.0 1379.2l-4 7.4h8zM631.5 1133.9l-4 7.4h8zM613.4 1156.1l-4 7.4h8zM616.5 1145.9l-4 7.4h8zM424.8 1373.3l-4 7.4h8zM561.0 1287.4l-4 7.4h8zM437.8 1286.0l-4 7.4h8zM590.0 1173.1l-4 7.4h8zM530.4 1215.9l-4 7.4h8zM490.6 1245.2l-4 7.4h8zM494.6 1334.0l-4 7.4h8zM418.0 1372.8l-4 7.4h8zM476.7 1256.5l-4 7.4h8zM394.0 1383.0l-4 7.4h8zM640.8 1223.0l-4 7.4h8zM574.9 1176.8l-4 7.4h8zM407.5 1310.0l-4 7.4h8zM596.5 1168.6l-4 7.4h8zM462.0 1354.8l-4 7.4h8zM367.1 1379.2l-4 7.4h8zM563.3 1281.5l-4 7.4h8zM422.7 1373.4l-4 7.4h8zM479.3 1248.2l-4 7.4h8zM623.0 1249.2l-4 7.4h8zM652.2 1211.9l-4 7.4h8zM510.1 1320.9l-4 7.4h8zM440.0 1366.1l-4 7.4h8zM610.4 1160.3l-4 7.4h8zM450.9 1363.4l-4 7.4h8zM546.7 1195.4l-4 7.4h8zM605.0 1159.1l-4 7.4h8zM531.3 1297.6l-4 7.4h8zM680.6 1185.4l-4 7.4h8zM679.4 1106.5l-4 7.4h8zM582.8 1177.4l-4 7.4h8zM463.9 1355.5l-4 7.4h8zM401.0 1381.5l-4 7.4h8zM650.4 1218.5l-4 7.4h8zM379.7 1376.2l-4 7.4h8zM644.8 1229.8l-4 7.4h8zM364.6 1334.0l-4 7.4h8zM601.0 1255.2l-4 7.4h8zM571.4 1274.6l-4 7.4h8zM544.3 1293.1l-4 7.4h8zM632.2 1139.5l-4 7.4h8zM655.6 1136.2l-4 7.4h8zM631.5 1129.9l-4 7.4h8zM547.0 1205.1l-4 7.4h8zM446.0 1363.3l-4 7.4h8zM634.2 1239.5l-4 7.4h8zM372.8 1332.3l-4 7.4h8zM615.2 1152.9l-4 7.4h8zM597.0 1169.1l-4 7.4h8zM663.0 1211.5l-4 7.4h8zM445.1 1281.6l-4 7.4h8zM541.1 1210.4l-4 7.4h8zM466.3 1265.8l-4 7.4h8zM513.8 1313.3l-4 7.4h8zM478.2 1347.3l-4 7.4h8zM514.4 1227.7l-4 7.4h8zM462.3 1269.3l-4 7.4h8zM618.1 1247.2l-4 7.4h8zM383.2 1383.8l-4 7.4h8zM459.5 1357.5l-4 7.4h8zM533.0 1214.1l-4 7.4h8zM605.5 1165.8l-4 7.4h8zM472.1 1249.7l-4 7.4h8zM538.4 1204.9l-4 7.4h8zM644.2 1230.7l-4 7.4h8zM642.1 1131.0l-4 7.4h8zM501.2 1233.3l-4 7.4h8zM572.8 1186.4l-4 7.4h8zM641.9 1226.8l-4 7.4h8zM517.2 1227.8l-4 7.4h8zM554.9 1293.6l-4 7.4h8zM669.1 1207.6l-4 7.4h8zM471.5 1344.8l-4 7.4h8zM485.8 1341.6l-4 7.4h8zM404.8 1305.4l-4 7.4h8zM622.7 1128.7l-4 7.4h8zM437.2 1279.0l-4 7.4h8zM632.5 1135.7l-4 7.4h8zM400.0 1374.6l-4 7.4h8zM550.9 1293.2l-4 7.4h8zM646.3 1216.4l-4 7.4h8zM596.8 1170.8l-4 7.4h8zM595.0 1269.8l-4 7.4h8zM412.7 1377.5l-4 7.4h8zM674.7 1192.5l-4 7.4h8zM577.9 1183.9l-4 7.4h8zM521.8 1225.6l-4 7.4h8zM389.8 1321.3l-4 7.4h8zM552.9 1192.9l-4 7.4h8zM605.8 1158.4l-4 7.4h8zM532.6 1210.2l-4 7.4h8zM388.7 1319.4l-4 7.4h8zM406.4 1379.0l-4 7.4h8zM444.1 1276.7l-4 7.4h8zM477.5 1347.1l-4 7.4h8zM460.1 1353.5l-4 7.4h8zM418.2 1376.2l-4 7.4h8zM370.7 1380.5l-4 7.4h8zM655.0 1141.3l-4 7.4h8zM595.1 1268.1l-4 7.4h8zM379.1 1318.7l-4 7.4h8zM457.2 1272.1l-4 7.4h8zM617.8 1144.2l-4 7.4h8zM590.1 1174.0l-4 7.4h8zM486.4 1340.2l-4 7.4h8zM597.3 1171.8l-4 7.4h8zM521.9 1222.0l-4 7.4h8zM471.3 1259.7l-4 7.4h8zM508.5 1225.6l-4 7.4h8zM397.8 1320.3l-4 7.4h8zM537.8 1301.9l-4 7.4h8zM642.4 1136.0l-4 7.4h8zM684.8 1104.7l-4 7.4h8zM583.1 1276.9l-4 7.4h8zM382.5 1383.7l-4 7.4h8zM392.4 1313.1l-4 7.4h8zM653.7 1142.2l-4 7.4h8zM413.0 1308.4l-4 7.4h8zM675.4 1118.5l-4 7.4h8zM647.7 1136.0l-4 7.4h8zM404.1 1310.5l-4 7.4h8zM494.8 1332.2l-4 7.4h8zM386.0 1319.0l-4 7.4h8zM362.6 1379.9l-4 7.4h8zM518.1 1225.4l-4 7.4h8zM584.4 1268.7l-4 7.4h8zM607.3 1158.7l-4 7.4h8zM656.5 1130.8l-4 7.4h8zM647.2 1216.6l-4 7.4h8zM481.4 1338.9l-4 7.4h8zM433.9 1290.1l-4 7.4h8zM494.4 1240.2l-4 7.4h8zM408.1 1311.6l-4 7.4h8zM479.7 1255.1l-4 7.4h8zM507.7 1229.2l-4 7.4h8zM439.0 1368.0l-4 7.4h8zM378.1 1379.7l-4 7.4h8zM555.6 1196.1l-4 7.4h8zM633.0 1229.4l-4 7.4h8zM584.5 1176.6l-4 7.4h8zM424.4 1301.8l-4 7.4h8zM385.1 1322.9l-4 7.4h8zM521.8 1301.9l-4 7.4h8zM619.0 1142.2l-4 7.4h8zM545.0 1205.7l-4 7.4h8zM683.4 1110.1l-4 7.4h8zM476.1 1254.2l-4 7.4h8zM607.1 1258.7l-4 7.4h8zM530.4 1307.0l-4 7.4h8zM563.5 1187.4l-4 7.4h8zM408.5 1379.0l-4 7.4h8zM396.7 1320.9l-4 7.4h8zM663.9 1199.9l-4 7.4h8zM523.3 1304.6l-4 7.4h8zM444.8 1371.2l-4 7.4h8zM478.2 1248.6l-4 7.4h8zM653.0 1210.3l-4 7.4h8zM519.5 1302.2l-4 7.4h8zM470.5 1258.1l-4 7.4h8zM614.7 1254.1l-4 7.4h8zM369.7 1375.4l-4 7.4h8zM607.1 1250.9l-4 7.4h8zM605.2 1252.9l-4 7.4h8zM476.9 1343.2l-4 7.4h8zM666.4 1117.8l-4 7.4h8zM425.8 1294.4l-4 7.4h8zM624.8 1136.5l-4 7.4h8zM579.8 1272.3l-4 7.4h8zM487.2 1337.9l-4 7.4h8zM460.7 1268.4l-4 7.4h8zM561.8 1286.7l-4 7.4h8zM461.3 1352.4l-4 7.4h8zM595.3 1173.1l-4 7.4h8zM544.5 1209.0l-4 7.4h8zM458.5 1268.6l-4 7.4h8zM666.3 1126.1l-4 7.4h8zM678.1 1192.3l-4 7.4h8zM536.4 1208.8l-4 7.4h8zM470.7 1257.8l-4 7.4h8zM461.3 1270.8l-4 7.4h8zM609.6 1162.6l-4 7.4h8zM656.7 1207.0l-4 7.4h8zM365.8 1331.4l-4 7.4h8zM429.9 1378.8l-4 7.4h8zM386.3 1327.0l-4 7.4h8zM670.9 1201.6l-4 7.4h8zM565.3 1280.4l-4 7.4h8zM501.1 1234.2l-4 7.4h8zM567.7 1187.6l-4 7.4h8zM600.0 1168.4l-4 7.4h8zM528.2 1217.9l-4 7.4h8zM533.3 1217.2l-4 7.4h8zM363.9 1336.2l-4 7.4h8zM378.7 1378.1l-4 7.4h8zM514.4 1307.2l-4 7.4h8zM495.8 1328.2l-4 7.4h8zM589.0 1174.6l-4 7.4h8zM397.0 1382.8l-4 7.4h8zM587.5 1262.7l-4 7.4h8zM540.4 1301.0l-4 7.4h8zM675.9 1113.6l-4 7.4h8zM624.2 1240.2l-4 7.4h8zM549.8 1289.8l-4 7.4h8zM649.8 1139.0l-4 7.4h8zM402.2 1316.6l-4 7.4h8zM613.9 1248.7l-4 7.4h8zM459.7 1355.6l-4 7.4h8zM523.2 1226.0l-4 7.4h8zM568.0 1185.8l-4 7.4h8zM547.5 1288.6l-4 7.4h8zM468.8 1355.9l-4 7.4h8zM364.6 1376.6l-4 7.4h8zM409.3 1303.8l-4 7.4h8zM631.9 1237.8l-4 7.4h8zM424.6 1304.9l-4 7.4h8zM601.0 1163.8l-4 7.4h8zM511.5 1224.9l-4 7.4h8zM645.7 1133.0l-4 7.4h8zM535.8 1301.9l-4 7.4h8zM438.1 1369.3l-4 7.4h8zM420.7 1309.8l-4 7.4h8zM548.3 1291.1l-4 7.4h8zM452.4 1358.7l-4 7.4h8zM466.2 1259.9l-4 7.4h8zM672.3 1192.6l-4 7.4h8zM394.4 1322.3l-4 7.4h8zM653.9 1210.3l-4 7.4h8zM610.8 1158.2l-4 7.4h8zM532.6 1214.3l-4 7.4h8zM666.0 1202.5l-4 7.4h8zM399.4 1374.1l-4 7.4h8zM423.7 1381.5l-4 7.4h8zM489.1 1335.8l-4 7.4h8zM474.9 1352.3l-4 7.4h8zM502.8 1324.2l-4 7.4h8zM649.5 1223.5l-4 7.4h8zM495.3 1238.1l-4 7.4h8zM678.0 1115.5l-4 7.4h8zM443.6 1280.4l-4 7.4h8zM371.2 1384.6l-4 7.4h8zM646.3 1220.9l-4 7.4h8zM572.1 1278.3l-4 7.4h8zM481.4 1341.7l-4 7.4h8zM480.1 1253.7l-4 7.4h8zM369.3 1334.7l-4 7.4h8zM471.6 1261.2l-4 7.4h8zM384.1 1377.9l-4 7.4h8zM364.6 1383.6l-4 7.4h8zM388.9 1378.6l-4 7.4h8zM591.6 1170.1l-4 7.4h8zM446.3 1279.9l-4 7.4h8zM392.3 1321.3l-4 7.4h8zM447.8 1273.5l-4 7.4h8zM563.5 1186.6l-4 7.4h8zM441.7 1274.3l-4 7.4h8zM574.3 1273.6l-4 7.4h8zM605.0 1260.1l-4 7.4h8zM614.9 1249.9l-4 7.4h8zM463.2 1351.3l-4 7.4h8zM517.9 1303.0l-4 7.4h8zM499.5 1230.4l-4 7.4h8zM635.2 1139.1l-4 7.4h8zM484.1 1244.6l-4 7.4h8zM654.4 1140.7l-4 7.4h8zM426.0 1304.4l-4 7.4h8zM593.4 1261.5l-4 7.4h8zM491.5 1332.1l-4 7.4h8zM616.3 1243.2l-4 7.4h8zM679.4 1113.9l-4 7.4h8zM461.5 1269.2l-4 7.4h8zM369.8 1333.3l-4 7.4h8zM673.9 1113.7l-4 7.4h8zM521.8 1226.7l-4 7.4h8zM543.3 1294.3l-4 7.4h8zM654.8 1209.7l-4 7.4h8zM442.1 1283.7l-4 7.4h8zM410.7 1303.2l-4 7.4h8zM575.1 1279.0l-4 7.4h8zM667.6 1202.2l-4 7.4h8zM609.8 1249.6l-4 7.4h8zM424.6 1296.4l-4 7.4h8zM496.2 1327.7l-4 7.4h8zM658.2 1207.8l-4 7.4h8zM508.1 1225.3l-4 7.4h8zM394.2 1323.7l-4 7.4h8zM503.3 1233.6l-4 7.4h8zM523.2 1219.2l-4 7.4h8zM395.6 1375.0l-4 7.4h8zM409.1 1383.4l-4 7.4h8zM506.8 1321.8l-4 7.4h8zM649.2 1216.5l-4 7.4h8zM556.4 1194.4l-4 7.4h8zM537.6 1301.6l-4 7.4h8zM515.2 1313.2l-4 7.4h8zM548.5 1289.8l-4 7.4h8zM413.5 1378.8l-4 7.4h8zM625.4 1236.6l-4 7.4h8zM657.3 1135.7l-4 7.4h8zM410.2 1303.5l-4 7.4h8zM424.9 1305.7l-4 7.4h8zM384.4 1328.1l-4 7.4h8zM507.2 1227.6l-4 7.4h8zM434.9 1374.7l-4 7.4h8zM470.2 1352.5l-4 7.4h8zM494.3 1242.1l-4 7.4h8zM483.2 1249.4l-4 7.4h8zM655.3 1138.9l-4 7.4h8zM456.4 1272.7l-4 7.4h8zM520.2 1230.0l-4 7.4h8zM566.8 1187.9l-4 7.4h8zM638.1 1231.7l-4 7.4h8zM624.6 1135.8l-4 7.4h8zM516.4 1307.7l-4 7.4h8zM615.6 1152.8l-4 7.4h8zM507.6 1321.4l-4 7.4h8zM674.6 1195.2l-4 7.4h8zM432.0 1283.5l-4 7.4h8zM578.2 1273.1l-4 7.4h8zM376.5 1323.6l-4 7.4h8zM527.9 1222.5l-4 7.4h8zM476.8 1257.4l-4 7.4h8zM479.2 1348.0l-4 7.4h8zM543.1 1200.2l-4 7.4h8zM600.9 1256.1l-4 7.4h8zM486.8 1338.4l-4 7.4h8zM596.2 1173.0l-4 7.4h8zM507.3 1219.9l-4 7.4h8zM600.5 1255.2l-4 7.4h8zM544.4 1205.5l-4 7.4h8zM363.0 1378.8l-4 7.4h8zM622.9 1140.3l-4 7.4h8zM622.4 1243.9l-4 7.4h8zM599.7 1170.2l-4 7.4h8zM473.3 1257.2l-4 7.4h8zM575.9 1186.3l-4 7.4h8zM466.3 1265.1l-4 7.4h8zM411.0 1384.2l-4 7.4h8zM640.9 1130.6l-4 7.4h8zM665.6 1120.9l-4 7.4h8zM632.1 1137.7l-4 7.4h8zM400.3 1377.0l-4 7.4h8zM619.9 1243.9l-4 7.4h8zM650.0 1137.9l-4 7.4h8zM680.6 1193.1l-4 7.4h8zM489.2 1241.6l-4 7.4h8zM484.2 1249.1l-4 7.4h8zM666.9 1203.7l-4 7.4h8zM422.1 1372.0l-4 7.4h8zM484.2 1340.1l-4 7.4h8zM439.4 1286.4l-4 7.4h8zM654.3 1212.1l-4 7.4h8zM667.2 1117.2l-4 7.4h8zM498.2 1236.8l-4 7.4h8zM376.4 1376.0l-4 7.4h8zM645.6 1222.3l-4 7.4h8zM587.2 1175.0l-4 7.4h8zM689.5 1180.3l-4 7.4h8zM518.3 1303.1l-4 7.4h8zM543.9 1202.8l-4 7.4h8zM378.7 1383.1l-4 7.4h8zM559.7 1191.6l-4 7.4h8zM613.6 1154.4l-4 7.4h8zM444.0 1366.4l-4 7.4h8zM634.9 1229.6l-4 7.4h8zM493.1 1240.5l-4 7.4h8zM661.5 1126.6l-4 7.4h8zM421.5 1380.4l-4 7.4h8zM516.9 1308.8l-4 7.4h8zM518.6 1302.4l-4 7.4h8zM577.1 1272.6l-4 7.4h8zM541.5 1301.1l-4 7.4h8zM604.2 1164.4l-4 7.4h8zM651.3 1142.7l-4 7.4h8zM538.3 1294.1l-4 7.4h8zM675.5 1195.2l-4 7.4h8zM419.7 1308.3l-4 7.4h8zM548.7 1290.1l-4 7.4h8zM454.1 1358.8l-4 7.4h8zM420.1 1303.4l-4 7.4h8zM596.7 1260.0l-4 7.4h8zM683.6 1107.4l-4 7.4h8zM574.1 1185.8l-4 7.4h8zM484.6 1340.9l-4 7.4h8zM522.0 1304.7l-4 7.4h8zM655.3 1216.8l-4 7.4h8zM582.3 1177.6l-4 7.4h8zM394.8 1376.9l-4 7.4h8zM404.4 1375.1l-4 7.4h8zM577.1 1184.6l-4 7.4h8zM560.3 1287.4l-4 7.4h8zM472.5 1349.5l-4 7.4h8zM365.5 1381.3l-4 7.4h8zM535.4 1296.6l-4 7.4h8zM479.5 1243.5l-4 7.4h8zM557.9 1197.0l-4 7.4h8zM513.8 1222.7l-4 7.4h8zM425.6 1379.6l-4 7.4h8zM597.9 1262.5l-4 7.4h8zM461.3 1263.1l-4 7.4h8zM623.5 1237.0l-4 7.4h8zM453.3 1361.2l-4 7.4h8zM384.2 1380.1l-4 7.4h8zM441.2 1283.4l-4 7.4h8zM382.2 1327.2l-4 7.4h8zM527.0 1221.9l-4 7.4h8zM375.8 1325.9l-4 7.4h8zM372.4 1376.6l-4 7.4h8zM366.5 1333.5l-4 7.4h8zM521.8 1218.4l-4 7.4h8zM583.0 1273.1l-4 7.4h8zM414.7 1298.5l-4 7.4h8zM644.8 1134.2l-4 7.4h8zM402.7 1378.0l-4 7.4h8zM373.1 1326.2l-4 7.4h8zM619.6 1137.9l-4 7.4h8zM448.2 1362.6l-4 7.4h8zM678.8 1113.7l-4 7.4h8zM387.9 1321.1l-4 7.4h8zM439.7 1284.5l-4 7.4h8zM577.4 1269.5l-4 7.4h8zM526.1 1219.2l-4 7.4h8zM538.0 1296.3l-4 7.4h8zM622.2 1137.7l-4 7.4h8zM568.5 1188.6l-4 7.4h8zM529.3 1218.4l-4 7.4h8zM427.7 1299.0l-4 7.4h8zM453.4 1276.1l-4 7.4h8zM429.1 1292.6l-4 7.4h8zM492.9 1334.8l-4 7.4h8zM615.2 1149.1l-4 7.4h8zM426.6 1297.5l-4 7.4h8zM381.7 1324.8l-4 7.4h8zM599.2 1168.2l-4 7.4h8zM571.1 1278.7l-4 7.4h8zM412.7 1376.3l-4 7.4h8zM477.9 1345.2l-4 7.4h8zM453.1 1357.5l-4 7.4h8zM557.2 1284.3l-4 7.4h8zM522.5 1305.6l-4 7.4h8zM530.8 1212.3l-4 7.4h8zM465.0 1356.2l-4 7.4h8zM576.8 1269.5l-4 7.4h8zM618.2 1241.5l-4 7.4h8zM458.2 1357.6l-4 7.4h8zM447.2 1279.6l-4 7.4h8zM476.1 1251.6l-4 7.4h8zM562.1 1194.8l-4 7.4h8zM387.5 1383.8l-4 7.4h8zM501.7 1233.6l-4 7.4h8zM556.8 1289.0l-4 7.4h8zM506.3 1225.4l-4 7.4h8zM460.6 1353.3l-4 7.4h8zM474.2 1351.1l-4 7.4h8zM623.6 1132.9l-4 7.4h8zM499.2 1331.1l-4 7.4h8zM560.8 1282.7l-4 7.4h8zM537.4 1207.3l-4 7.4h8zM566.6 1188.4l-4 7.4h8zM424.3 1304.3l-4 7.4h8zM486.7 1246.2l-4 7.4h8zM367.8 1335.1l-4 7.4h8zM509.5 1318.8l-4 7.4h8zM556.2 1287.0l-4 7.4h8zM473.4 1259.4l-4 7.4h8zM595.5 1262.9l-4 7.4h8zM554.1 1200.3l-4 7.4h8zM394.2 1383.5l-4 7.4h8zM401.9 1318.3l-4 7.4h8zM544.1 1205.1l-4 7.4h8zM384.5 1325.6l-4 7.4h8zM435.5 1280.1l-4 7.4h8zM587.1 1264.5l-4 7.4h8zM380.6 1325.1l-4 7.4h8zM522.6 1310.1l-4 7.4h8zM551.2 1287.4l-4 7.4h8zM629.8 1129.1l-4 7.4h8zM366.8 1331.9l-4 7.4h8zM604.3 1257.6l-4 7.4h8zM673.3 1115.9l-4 7.4h8zM559.6 1287.5l-4 7.4h8zM500.0 1230.6l-4 7.4h8zM364.3 1337.0l-4 7.4h8zM370.8 1382.6l-4 7.4h8zM632.5 1233.5l-4 7.4h8zM561.1 1281.2l-4 7.4h8zM494.8 1332.5l-4 7.4h8zM621.2 1140.5l-4 7.4h8zM414.8 1374.3l-4 7.4h8zM442.9 1366.8l-4 7.4h8zM540.7 1210.3l-4 7.4h8zM394.7 1320.0l-4 7.4h8zM427.9 1371.4l-4 7.4h8zM534.7 1212.7l-4 7.4h8zM646.6 1134.0l-4 7.4h8zM605.3 1260.8l-4 7.4h8zM533.0 1298.1l-4 7.4h8zM442.3 1364.8l-4 7.4h8zM369.2 1333.7l-4 7.4h8zM431.2 1284.2l-4 7.4h8zM645.7 1223.4l-4 7.4h8zM499.0 1329.0l-4 7.4h8zM495.7 1229.3l-4 7.4h8zM382.4 1380.6l-4 7.4h8zM593.6 1174.0l-4 7.4h8zM648.7 1130.6l-4 7.4h8zM445.8 1365.1l-4 7.4h8zM548.3 1292.1l-4 7.4h8zM475.5 1352.1l-4 7.4h8zM534.2 1296.9l-4 7.4h8zM421.7 1308.3l-4 7.4h8zM410.9 1302.7l-4 7.4h8zM388.8 1322.8l-4 7.4h8zM373.7 1377.1l-4 7.4h8zM522.7 1307.5l-4 7.4h8zM582.7 1178.7l-4 7.4h8zM653.2 1216.8l-4 7.4h8zM394.4 1321.3l-4 7.4h8zM378.9 1326.5l-4 7.4h8zM375.9 1323.1l-4 7.4h8zM536.1 1297.1l-4 7.4h8zM367.4 1385.5l-4 7.4h8zM511.8 1224.0l-4 7.4h8zM367.3 1387.0l-4 7.4h8zM503.6 1331.8l-4 7.4h8zM453.7 1357.2l-4 7.4h8zM431.4 1293.8l-4 7.4h8zM586.8 1170.9l-4 7.4h8zM516.9 1219.6l-4 7.4h8zM376.2 1376.3l-4 7.4h8zM588.1 1171.3l-4 7.4h8zM372.2 1382.3l-4 7.4h8zM553.4 1288.9l-4 7.4h8zM671.9 1198.0l-4 7.4h8zM390.6 1324.5l-4 7.4h8zM374.1 1327.2l-4 7.4h8zM454.3 1276.9l-4 7.4h8zM496.0 1330.9l-4 7.4h8zM555.6 1292.3l-4 7.4h8zM663.0 1209.2l-4 7.4h8zM608.8 1163.0l-4 7.4h8zM386.3 1381.8l-4 7.4h8zM438.1 1288.8l-4 7.4h8zM546.4 1205.6l-4 7.4h8zM463.6 1266.0l-4 7.4h8zM392.7 1382.1l-4 7.4h8zM661.6 1123.0l-4 7.4h8zM641.6 1220.9l-4 7.4h8zM421.1 1308.1l-4 7.4h8zM617.7 1247.6l-4 7.4h8zM600.7 1164.5l-4 7.4h8zM580.0 1171.8l-4 7.4h8zM387.5 1383.9l-4 7.4h8zM632.7 1139.6l-4 7.4h8zM585.6 1174.9l-4 7.4h8zM504.8 1318.3l-4 7.4h8zM545.5 1207.3l-4 7.4h8zM610.9 1161.8l-4 7.4h8zM436.1 1373.5l-4 7.4h8zM491.5 1243.5l-4 7.4h8zM428.6 1294.6l-4 7.4h8zM415.3 1376.2l-4 7.4h8zM639.6 1139.3l-4 7.4h8zM416.5 1308.3l-4 7.4h8zM544.4 1198.5l-4 7.4h8zM517.0 1226.3l-4 7.4h8zM521.4 1304.4l-4 7.4h8zM592.6 1172.3l-4 7.4h8zM425.8 1301.7l-4 7.4h8zM529.7 1221.5l-4 7.4h8zM649.0 1138.0l-4 7.4h8zM662.0 1131.9l-4 7.4h8zM489.9 1242.6l-4 7.4h8zM419.5 1373.2l-4 7.4h8zM548.0 1297.0l-4 7.4h8zM611.8 1245.6l-4 7.4h8zM449.4 1372.2l-4 7.4h8zM687.6 1105.6l-4 7.4h8zM433.8 1374.4l-4 7.4h8zM412.8 1305.1l-4 7.4h8zM612.1 1254.8l-4 7.4h8zM559.0 1282.9l-4 7.4h8zM402.9 1312.0l-4 7.4h8zM641.3 1131.0l-4 7.4h8zM569.9 1183.3l-4 7.4h8zM478.9 1350.6l-4 7.4h8zM495.2 1238.3l-4 7.4h8zM442.3 1279.9l-4 7.4h8zM496.4 1234.3l-4 7.4h8zM544.9 1289.5l-4 7.4h8zM491.5 1237.8l-4 7.4h8zM607.8 1164.7l-4 7.4h8zM558.2 1287.6l-4 7.4h8zM469.2 1263.1l-4 7.4h8zM636.4 1139.0l-4 7.4h8zM487.4 1246.2l-4 7.4h8zM523.6 1300.8l-4 7.4h8zM665.1 1204.1l-4 7.4h8zM412.5 1307.4l-4 7.4h8zM385.7 1386.7l-4 7.4h8zM534.9 1211.3l-4 7.4h8zM442.7 1279.4l-4 7.4h8zM412.8 1375.7l-4 7.4h8zM539.9 1295.2l-4 7.4h8zM547.9 1204.9l-4 7.4h8zM506.8 1223.5l-4 7.4h8zM369.5 1333.7l-4 7.4h8zM656.5 1217.0l-4 7.4h8zM438.8 1374.0l-4 7.4h8zM645.6 1224.4l-4 7.4h8zM501.2 1230.0l-4 7.4h8zM391.4 1325.1l-4 7.4h8zM662.1 1205.8l-4 7.4h8zM370.5 1334.6l-4 7.4h8zM608.8 1157.6l-4 7.4h8zM426.8 1377.7l-4 7.4h8zM488.4 1247.1l-4 7.4h8zM529.6 1222.0l-4 7.4h8zM550.7 1196.0l-4 7.4h8zM648.7 1136.7l-4 7.4h8zM561.3 1282.6l-4 7.4h8zM496.0 1235.2l-4 7.4h8zM470.4 1345.4l-4 7.4h8zM519.7 1227.8l-4 7.4h8zM594.6 1167.7l-4 7.4h8zM620.9 1240.4l-4 7.4h8zM577.1 1185.6l-4 7.4h8zM608.3 1163.6l-4 7.4h8zM371.9 1331.8l-4 7.4h8zM538.8 1294.4l-4 7.4h8zM480.7 1251.0l-4 7.4h8zM589.2 1263.0l-4 7.4h8zM566.5 1191.8l-4 7.4h8zM546.1 1204.9l-4 7.4h8zM375.2 1331.7l-4 7.4h8zM566.8 1184.3l-4 7.4h8zM634.5 1233.5l-4 7.4h8zM473.5 1256.1l-4 7.4h8zM391.0 1377.3l-4 7.4h8zM558.5 1286.2l-4 7.4h8zM610.2 1157.9l-4 7.4h8zM443.0 1368.0l-4 7.4h8zM630.0 1136.7l-4 7.4h8zM576.8 1280.5l-4 7.4h8zM596.6 1256.6l-4 7.4h8zM464.2 1259.6l-4 7.4h8zM446.6 1368.0l-4 7.4h8zM682.0 1111.2l-4 7.4h8zM375.3 1327.5l-4 7.4h8zM409.7 1374.4l-4 7.4h8zM395.1 1319.6l-4 7.4h8zM603.5 1165.5l-4 7.4h8zM454.5 1271.5l-4 7.4h8zM625.4 1237.0l-4 7.4h8zM633.7 1131.6l-4 7.4h8zM598.9 1172.6l-4 7.4h8zM572.4 1179.5l-4 7.4h8zM390.9 1326.0l-4 7.4h8zM664.7 1122.6l-4 7.4h8zM531.2 1301.3l-4 7.4h8zM425.7 1305.0l-4 7.4h8zM684.4 1104.8l-4 7.4h8zM380.2 1321.4l-4 7.4h8zM666.1 1204.5l-4 7.4h8zM516.1 1311.6l-4 7.4h8zM620.6 1241.2l-4 7.4h8zM512.3 1223.2l-4 7.4h8zM487.0 1236.7l-4 7.4h8zM675.0 1118.8l-4 7.4h8zM608.0 1251.3l-4 7.4h8zM564.8 1284.8l-4 7.4h8zM567.2 1278.7l-4 7.4h8zM370.3 1381.2l-4 7.4h8zM575.9 1272.9l-4 7.4h8zM633.6 1228.1l-4 7.4h8zM462.0 1356.6l-4 7.4h8zM436.3 1371.9l-4 7.4h8zM478.6 1255.1l-4 7.4h8zM640.1 1228.2l-4 7.4h8zM416.2 1376.6l-4 7.4h8zM473.1 1346.8l-4 7.4h8zM659.7 1205.2l-4 7.4h8zM653.1 1211.5l-4 7.4h8zM426.5 1372.9l-4 7.4h8zM444.8 1277.4l-4 7.4h8zM553.8 1291.6l-4 7.4h8zM384.7 1384.2l-4 7.4h8zM627.2 1234.0l-4 7.4h8zM408.4 1383.9l-4 7.4h8zM462.9 1268.0l-4 7.4h8zM569.0 1283.9l-4 7.4h8zM508.1 1227.1l-4 7.4h8zM463.8 1357.1l-4 7.4h8zM554.9 1192.8l-4 7.4h8zM528.1 1219.5l-4 7.4h8zM525.0 1302.7l-4 7.4h8zM377.6 1326.5l-4 7.4h8zM675.0 1191.9l-4 7.4h8zM530.7 1299.0l-4 7.4h8zM409.9 1379.2l-4 7.4h8zM599.2 1255.7l-4 7.4h8zM620.9 1248.0l-4 7.4h8zM619.3 1140.0l-4 7.4h8zM511.6 1224.7l-4 7.4h8zM425.3 1376.2l-4 7.4h8zM666.5 1207.6l-4 7.4h8zM377.0 1376.9l-4 7.4h8zM416.4 1304.1l-4 7.4h8zM436.9 1367.9l-4 7.4h8zM578.6 1270.7l-4 7.4h8zM627.7 1235.0l-4 7.4h8zM545.5 1294.8l-4 7.4h8zM480.2 1344.9l-4 7.4h8zM678.1 1107.8l-4 7.4h8zM456.7 1273.4l-4 7.4h8zM498.0 1334.9l-4 7.4h8zM681.8 1196.4l-4 7.4h8zM630.9 1242.6l-4 7.4h8zM422.2 1373.8l-4 7.4h8zM587.3 1264.7l-4 7.4h8zM387.3 1378.2l-4 7.4h8zM366.2 1379.0l-4 7.4h8zM678.3 1192.2l-4 7.4h8zM549.7 1293.9l-4 7.4h8zM656.2 1132.5l-4 7.4h8zM599.7 1254.8l-4 7.4h8zM629.5 1130.5l-4 7.4h8zM454.1 1269.3l-4 7.4h8zM376.9 1385.6l-4 7.4h8zM641.9 1221.1l-4 7.4h8zM388.8 1381.5l-4 7.4h8zM511.1 1318.1l-4 7.4h8zM673.0 1117.0l-4 7.4h8zM403.7 1317.3l-4 7.4h8zM601.0 1167.3l-4 7.4h8zM614.9 1247.2l-4 7.4h8zM567.9 1186.8l-4 7.4h8zM416.2 1378.3l-4 7.4h8zM482.6 1246.7l-4 7.4h8zM444.6 1375.0l-4 7.4h8zM506.0 1223.6l-4 7.4h8zM550.7 1295.2l-4 7.4h8zM568.0 1187.8l-4 7.4h8zM413.8 1299.6l-4 7.4h8zM527.7 1305.8l-4 7.4h8zM372.0 1377.1l-4 7.4h8zM578.1 1272.9l-4 7.4h8zM487.2 1243.5l-4 7.4h8zM640.5 1133.7l-4 7.4h8zM665.8 1128.3l-4 7.4h8zM559.8 1289.7l-4 7.4h8zM505.9 1230.0l-4 7.4h8zM455.4 1269.8l-4 7.4h8zM567.9 1186.4l-4 7.4h8zM650.1 1142.2l-4 7.4h8zM456.0 1273.0l-4 7.4h8zM466.9 1348.0l-4 7.4h8zM687.3 1185.3l-4 7.4h8zM615.1 1150.4l-4 7.4h8zM401.0 1384.9l-4 7.4h8zM573.3 1274.9l-4 7.4h8zM487.7 1335.9l-4 7.4h8zM681.2 1109.5l-4 7.4h8zM454.6 1358.6l-4 7.4h8zM473.6 1347.0l-4 7.4h8zM645.9 1137.2l-4 7.4h8zM630.9 1232.4l-4 7.4h8zM509.0 1223.9l-4 7.4h8zM653.6 1137.5l-4 7.4h8zM425.3 1300.6l-4 7.4h8zM477.4 1256.3l-4 7.4h8zM663.3 1131.0l-4 7.4h8zM554.8 1291.5l-4 7.4h8zM624.8 1135.6l-4 7.4h8zM651.6 1214.3l-4 7.4h8zM403.2 1313.8l-4 7.4h8zM677.9 1107.4l-4 7.4h8zM618.2 1244.4l-4 7.4h8zM477.3 1252.7l-4 7.4h8zM563.0 1282.9l-4 7.4h8zM487.4 1344.9l-4 7.4h8zM681.1 1105.0l-4 7.4h8zM600.8 1162.3l-4 7.4h8zM418.7 1299.7l-4 7.4h8zM619.7 1240.7l-4 7.4h8zM515.9 1307.8l-4 7.4h8zM449.4 1272.5l-4 7.4h8zM644.7 1131.6l-4 7.4h8zM369.2 1385.8l-4 7.4h8zM599.9 1256.4l-4 7.4h8zM414.8 1373.9l-4 7.4h8zM504.7 1231.2l-4 7.4h8zM411.3 1303.6l-4 7.4h8zM553.7 1199.5l-4 7.4h8zM680.3 1187.5l-4 7.4h8zM577.3 1269.4l-4 7.4h8zM480.6 1245.9l-4 7.4h8zM608.4 1163.6l-4 7.4h8zM671.0 1200.5l-4 7.4h8zM511.8 1221.8l-4 7.4h8zM682.1 1109.4l-4 7.4h8zM444.4 1367.7l-4 7.4h8zM643.2 1219.3l-4 7.4h8zM642.8 1220.3l-4 7.4h8zM505.4 1319.6l-4 7.4h8zM445.8 1368.1l-4 7.4h8zM672.1 1121.4l-4 7.4h8zM374.8 1377.0l-4 7.4h8zM539.1 1303.5l-4 7.4h8zM591.6 1260.0l-4 7.4h8zM453.3 1274.2l-4 7.4h8zM471.3 1355.2l-4 7.4h8zM681.4 1110.9l-4 7.4h8zM633.0 1135.9l-4 7.4h8zM639.0 1134.3l-4 7.4h8zM596.4 1267.0l-4 7.4h8zM402.5 1383.5l-4 7.4h8zM362.7 1378.5l-4 7.4h8zM621.1 1136.7l-4 7.4h8zM592.8 1258.8l-4 7.4h8zM382.9 1382.1l-4 7.4h8zM551.1 1192.6l-4 7.4h8zM437.6 1373.1l-4 7.4h8zM535.1 1209.4l-4 7.4h8zM623.3 1139.5l-4 7.4h8zM618.5 1248.3l-4 7.4h8zM442.7 1367.1l-4 7.4h8zM502.6 1321.4l-4 7.4h8zM571.6 1279.2l-4 7.4h8zM665.4 1207.6l-4 7.4h8zM514.3 1228.0l-4 7.4h8zM522.0 1229.2l-4 7.4h8zM548.0 1201.6l-4 7.4h8zM533.4 1215.5l-4 7.4h8zM554.5 1196.7l-4 7.4h8zM508.8 1222.8l-4 7.4h8zM473.9 1250.6l-4 7.4h8zM440.3 1371.3l-4 7.4h8zM683.6 1185.7l-4 7.4h8zM388.6 1385.1l-4 7.4h8zM460.9 1355.6l-4 7.4h8zM649.9 1214.3l-4 7.4h8zM493.1 1339.8l-4 7.4h8zM675.0 1197.4l-4 7.4h8zM442.3 1370.0l-4 7.4h8zM462.8 1354.0l-4 7.4h8zM586.1 1270.3l-4 7.4h8zM448.0 1273.9l-4 7.4h8zM676.8 1117.4l-4 7.4h8zM580.7 1273.1l-4 7.4h8zM410.4 1374.7l-4 7.4h8zM521.9 1300.4l-4 7.4h8zM571.4 1187.4l-4 7.4h8zM411.4 1308.5l-4 7.4h8zM516.8 1314.3l-4 7.4h8zM674.5 1117.0l-4 7.4h8zM452.8 1272.2l-4 7.4h8zM555.1 1284.3l-4 7.4h8zM436.8 1372.0l-4 7.4h8zM364.0 1331.4l-4 7.4h8zM610.7 1250.4l-4 7.4h8zM425.8 1372.2l-4 7.4h8zM398.6 1384.1l-4 7.4h8zM381.9 1321.3l-4 7.4h8zM670.5 1115.6l-4 7.4h8zM470.9 1256.1l-4 7.4h8zM472.4 1259.5l-4 7.4h8zM467.9 1347.5l-4 7.4h8zM374.2 1377.1l-4 7.4h8zM644.2 1220.4l-4 7.4h8zM481.7 1348.3l-4 7.4h8zM539.1 1292.6l-4 7.4h8zM476.8 1254.3l-4 7.4h8zM460.2 1265.2l-4 7.4h8zM483.0 1247.0l-4 7.4h8zM638.9 1225.3l-4 7.4h8zM533.3 1300.6l-4 7.4h8zM645.5 1139.7l-4 7.4h8zM580.2 1179.8l-4 7.4h8zM559.9 1288.7l-4 7.4h8zM502.3 1320.9l-4 7.4h8zM589.9 1260.9l-4 7.4h8zM640.8 1227.3l-4 7.4h8zM522.8 1304.2l-4 7.4h8zM386.1 1323.1l-4 7.4h8zM670.5 1198.9l-4 7.4h8zM649.4 1133.9l-4 7.4h8zM651.8 1217.6l-4 7.4h8zM558.0 1191.9l-4 7.4h8zM606.6 1257.9l-4 7.4h8zM557.4 1287.4l-4 7.4h8zM396.7 1385.0l-4 7.4h8zM493.3 1339.2l-4 7.4h8zM393.2 1314.1l-4 7.4h8zM654.5 1137.9l-4 7.4h8zM644.9 1219.0l-4 7.4h8zM368.9 1378.2l-4 7.4h8zM515.7 1307.0l-4 7.4h8zM569.7 1276.4l-4 7.4h8zM380.3 1381.9l-4 7.4h8zM537.5 1213.9l-4 7.4h8zM411.9 1377.3l-4 7.4h8zM670.7 1120.2l-4 7.4h8zM405.5 1379.7l-4 7.4h8zM513.2 1226.2l-4 7.4h8zM677.1 1194.6l-4 7.4h8zM631.5 1233.3l-4 7.4h8zM523.0 1221.5l-4 7.4h8zM680.6 1112.3l-4 7.4h8zM608.1 1161.4l-4 7.4h8zM550.5 1286.1l-4 7.4h8zM364.2 1375.2l-4 7.4h8zM483.6 1338.3l-4 7.4h8zM612.3 1252.8l-4 7.4h8zM466.9 1354.3l-4 7.4h8zM559.5 1282.0l-4 7.4h8zM585.4 1171.8l-4 7.4h8zM374.5 1325.5l-4 7.4h8zM643.2 1133.3l-4 7.4h8zM495.6 1328.9l-4 7.4h8zM677.5 1113.7l-4 7.4h8zM657.0 1207.1l-4 7.4h8zM467.2 1260.8l-4 7.4h8zM659.2 1136.6l-4 7.4h8zM405.7 1314.4l-4 7.4h8zM585.4 1177.1l-4 7.4h8zM404.2 1313.7l-4 7.4h8zM566.7 1281.1l-4 7.4h8zM466.7 1262.3l-4 7.4h8zM658.1 1206.8l-4 7.4h8zM386.7 1320.5l-4 7.4h8zM480.1 1341.5l-4 7.4h8zM649.0 1213.4l-4 7.4h8zM425.8 1375.4l-4 7.4h8zM555.3 1295.5l-4 7.4h8zM525.6 1301.0l-4 7.4h8zM396.1 1375.2l-4 7.4h8zM545.3 1292.9l-4 7.4h8zM644.6 1128.9l-4 7.4h8zM592.2 1170.2l-4 7.4h8zM380.3 1321.8l-4 7.4h8zM472.7 1350.9l-4 7.4h8zM382.5 1324.1l-4 7.4h8zM526.8 1302.3l-4 7.4h8zM645.5 1135.0l-4 7.4h8zM426.3 1300.5l-4 7.4h8zM577.9 1273.2l-4 7.4h8zM573.5 1178.6l-4 7.4h8zM480.1 1346.8l-4 7.4h8zM382.9 1319.9l-4 7.4h8zM476.4 1343.8l-4 7.4h8zM410.9 1380.1l-4 7.4h8zM635.2 1226.8l-4 7.4h8zM414.7 1302.7l-4 7.4h8zM679.5 1190.1l-4 7.4h8zM664.4 1205.4l-4 7.4h8zM437.9 1372.9l-4 7.4h8zM484.8 1338.4l-4 7.4h8zM527.3 1222.9l-4 7.4h8zM673.7 1196.9l-4 7.4h8zM647.2 1218.0l-4 7.4h8zM379.5 1380.0l-4 7.4h8zM502.0 1322.0l-4 7.4h8zM560.0 1282.8l-4 7.4h8zM574.8 1179.9l-4 7.4h8zM545.8 1295.1l-4 7.4h8zM365.0 1331.5l-4 7.4h8zM583.8 1178.4l-4 7.4h8zM398.3 1321.7l-4 7.4h8zM509.4 1224.2l-4 7.4h8zM507.4 1318.2l-4 7.4h8zM413.1 1305.4l-4 7.4h8zM663.6 1127.6l-4 7.4h8zM416.1 1381.0l-4 7.4h8zM433.0 1369.4l-4 7.4h8zM574.4 1273.2l-4 7.4h8zM686.3 1180.9l-4 7.4h8zM399.9 1376.1l-4 7.4h8zM463.0 1267.2l-4 7.4h8zM684.3 1107.6l-4 7.4h8zM408.1 1380.1l-4 7.4h8zM609.0 1162.8l-4 7.4h8zM662.7 1132.7l-4 7.4h8zM567.9 1185.7l-4 7.4h8zM552.9 1202.2l-4 7.4h8zM445.8 1282.5l-4 7.4h8zM568.2 1281.6l-4 7.4h8zM559.6 1284.8l-4 7.4h8zM645.7 1219.3l-4 7.4h8zM480.5 1246.2l-4 7.4h8zM505.4 1320.3l-4 7.4h8zM455.7 1360.5l-4 7.4h8zM562.3 1279.9l-4 7.4h8zM490.5 1334.8l-4 7.4h8zM616.5 1148.8l-4 7.4h8zM481.1 1241.6l-4 7.4h8zM479.8 1248.6l-4 7.4h8zM521.8 1300.6l-4 7.4h8zM657.7 1138.1l-4 7.4h8zM634.5 1138.4l-4 7.4h8zM464.6 1263.5l-4 7.4h8zM614.5 1249.3l-4 7.4h8zM457.0 1272.2l-4 7.4h8zM549.3 1294.7l-4 7.4h8zM424.9 1300.6l-4 7.4h8zM686.6 1107.5l-4 7.4h8zM378.2 1382.1l-4 7.4h8zM661.9 1131.7l-4 7.4h8zM647.2 1217.2l-4 7.4h8zM491.8 1331.9l-4 7.4h8zM658.2 1212.1l-4 7.4h8zM432.6 1286.9l-4 7.4h8zM466.9 1348.6l-4 7.4h8zM644.1 1221.3l-4 7.4h8zM631.1 1232.5l-4 7.4h8zM493.8 1332.8l-4 7.4h8zM523.4 1221.6l-4 7.4h8zM534.7 1207.4l-4 7.4h8zM648.6 1213.8l-4 7.4h8zM395.0 1315.1l-4 7.4h8zM594.9 1262.9l-4 7.4h8zM463.3 1355.8l-4 7.4h8zM674.1 1110.1l-4 7.4h8zM500.4 1234.1l-4 7.4h8zM437.8 1283.9l-4 7.4h8zM660.0 1134.8l-4 7.4h8zM424.0 1303.6l-4 7.4h8zM681.7 1109.8l-4 7.4h8zM471.6 1259.6l-4 7.4h8zM428.7 1376.4l-4 7.4h8zM633.4 1139.5l-4 7.4h8zM644.1 1139.4l-4 7.4h8zM678.4 1115.4l-4 7.4h8zM589.0 1265.9l-4 7.4h8zM444.0 1274.2l-4 7.4h8zM508.8 1317.5l-4 7.4h8zM405.0 1310.0l-4 7.4h8zM608.1 1163.4l-4 7.4h8zM435.3 1378.2l-4 7.4h8zM476.6 1250.7l-4 7.4h8zM483.5 1251.5l-4 7.4h8zM390.0 1379.7l-4 7.4h8zM479.1 1347.9l-4 7.4h8zM677.2 1190.5l-4 7.4h8zM406.9 1374.3l-4 7.4h8zM568.3 1275.7l-4 7.4h8zM524.6 1307.8l-4 7.4h8zM666.3 1123.4l-4 7.4h8zM450.5 1274.6l-4 7.4h8zM405.9 1307.7l-4 7.4h8zM367.9 1330.5l-4 7.4h8zM619.1 1245.0l-4 7.4h8zM539.4 1301.4l-4 7.4h8zM389.2 1316.6l-4 7.4h8zM406.1 1379.5l-4 7.4h8zM539.8 1207.6l-4 7.4h8zM362.0 1332.4l-4 7.4h8zM361.4 1382.5l-4 7.4h8zM370.9 1331.9l-4 7.4h8zM371.3 1380.5l-4 7.4h8zM375.4 1328.0l-4 7.4h8zM376.6 1386.1l-4 7.4h8zM384.1 1324.3l-4 7.4h8zM385.9 1385.1l-4 7.4h8zM388.9 1322.4l-4 7.4h8zM387.5 1382.6l-4 7.4h8zM394.5 1316.5l-4 7.4h8zM393.3 1380.2l-4 7.4h8zM399.3 1313.8l-4 7.4h8zM398.9 1383.2l-4 7.4h8zM405.9 1310.4l-4 7.4h8zM407.6 1380.0l-4 7.4h8zM411.5 1301.4l-4 7.4h8zM411.2 1381.6l-4 7.4h8zM418.2 1303.6l-4 7.4h8zM419.7 1378.4l-4 7.4h8zM425.3 1303.5l-4 7.4h8zM426.9 1380.5l-4 7.4h8zM433.6 1290.4l-4 7.4h8zM434.7 1374.0l-4 7.4h8zM437.9 1286.8l-4 7.4h8zM438.5 1376.0l-4 7.4h8zM445.6 1280.1l-4 7.4h8zM445.9 1367.7l-4 7.4h8zM453.0 1273.0l-4 7.4h8zM454.3 1362.3l-4 7.4h8zM461.1 1265.8l-4 7.4h8zM461.9 1360.5l-4 7.4h8zM466.1 1258.5l-4 7.4h8zM465.6 1354.5l-4 7.4h8zM473.4 1256.7l-4 7.4h8zM472.5 1352.5l-4 7.4h8zM481.8 1245.3l-4 7.4h8zM483.3 1344.4l-4 7.4h8zM487.4 1244.9l-4 7.4h8zM489.2 1341.9l-4 7.4h8zM495.3 1233.3l-4 7.4h8zM497.1 1339.2l-4 7.4h8zM502.4 1230.4l-4 7.4h8zM503.4 1329.7l-4 7.4h8zM509.5 1223.0l-4 7.4h8zM508.5 1318.9l-4 7.4h8zM517.6 1223.7l-4 7.4h8zM518.8 1310.6l-4 7.4h8zM523.9 1221.2l-4 7.4h8zM524.5 1306.6l-4 7.4h8zM528.6 1220.4l-4 7.4h8zM530.1 1304.9l-4 7.4h8zM535.5 1213.4l-4 7.4h8zM535.9 1301.1l-4 7.4h8zM541.5 1203.8l-4 7.4h8zM543.2 1296.4l-4 7.4h8zM549.1 1201.3l-4 7.4h8zM547.5 1293.2l-4 7.4h8zM557.1 1192.6l-4 7.4h8zM556.5 1292.7l-4 7.4h8zM563.6 1193.0l-4 7.4h8zM564.9 1286.1l-4 7.4h8zM572.3 1184.6l-4 7.4h8zM571.0 1280.2l-4 7.4h8zM580.4 1177.7l-4 7.4h8zM579.1 1275.2l-4 7.4h8zM587.8 1170.8l-4 7.4h8zM586.8 1270.7l-4 7.4h8zM592.5 1171.0l-4 7.4h8zM593.6 1264.7l-4 7.4h8zM600.1 1163.3l-4 7.4h8zM598.4 1260.6l-4 7.4h8zM607.2 1162.5l-4 7.4h8zM608.3 1257.2l-4 7.4h8zM614.3 1154.2l-4 7.4h8zM612.5 1250.9l-4 7.4h8zM621.0 1135.2l-4 7.4h8zM621.6 1247.0l-4 7.4h8zM625.7 1136.3l-4 7.4h8zM627.5 1242.3l-4 7.4h8zM634.0 1136.3l-4 7.4h8zM634.2 1232.7l-4 7.4h8zM639.7 1133.2l-4 7.4h8zM639.7 1229.8l-4 7.4h8zM644.4 1131.4l-4 7.4h8zM644.9 1226.9l-4 7.4h8zM651.1 1136.8l-4 7.4h8zM650.7 1220.2l-4 7.4h8zM659.7 1128.5l-4 7.4h8zM658.1 1214.3l-4 7.4h8zM664.4 1126.3l-4 7.4h8zM664.0 1205.1l-4 7.4h8zM669.3 1118.6l-4 7.4h8zM671.1 1203.0l-4 7.4h8zM675.2 1114.1l-4 7.4h8zM677.0 1195.9l-4 7.4h8zM681.3 1109.8l-4 7.4h8zM683.2 1193.1l-4 7.4h8zM687.0 1104.5l-4 7.4h8zM686.6 1190.1l-4 7.4h8zM762.1 1068.5l-4 7.4h8zM745.9 1125.4l-4 7.4h8zM699.7 1147.2l-4 7.4h8zM720.0 1120.0l-4 7.4h8zM746.9 1115.4l-4 7.4h8zM815.8 1080.1l-4 7.4h8zM802.9 1073.5l-4 7.4h8zM708.8 1101.7l-4 7.4h8zM701.6 1095.9l-4 7.4h8zM746.3 1129.8l-4 7.4h8zM780.4 1075.2l-4 7.4h8zM707.5 1076.1l-4 7.4h8zM754.2 1090.8l-4 7.4h8zM785.3 1079.5l-4 7.4h8zM723.4 1125.2l-4 7.4h8zM800.1 1079.0l-4 7.4h8zM781.0 1070.0l-4 7.4h8zM692.4 1123.5l-4 7.4h8zM728.1 1142.7l-4 7.4h8zM757.5 1133.2l-4 7.4h8zM704.5 1141.3l-4 7.4h8zM725.3 1127.2l-4 7.4h8zM693.3 1165.8l-4 7.4h8zM764.8 1094.0l-4 7.4h8zM710.3 1086.7l-4 7.4h8zM738.5 1100.0l-4 7.4h8zM734.5 1090.9l-4 7.4h8zM749.0 1095.7l-4 7.4h8zM776.2 1067.5l-4 7.4h8zM708.7 1074.1l-4 7.4h8zM741.8 1108.2l-4 7.4h8zM729.0 1124.5l-4 7.4h8zM783.6 1086.4l-4 7.4h8zM723.2 1094.1l-4 7.4h8zM760.9 1128.8l-4 7.4h8zM767.1 1111.9l-4 7.4h8zM741.4 1151.2l-4 7.4h8zM777.8 1072.7l-4 7.4h8zM717.1 1141.3l-4 7.4h8zM717.9 1142.3l-4 7.4h8zM760.5 1141.7l-4 7.4h8zM750.4 1112.6l-4 7.4h8zM733.9 1149.8l-4 7.4h8zM714.7 1085.1l-4 7.4h8zM811.6 1074.2l-4 7.4h8zM711.1 1113.3l-4 7.4h8zM719.5 1121.1l-4 7.4h8zM772.7 1083.6l-4 7.4h8zM762.2 1090.1l-4 7.4h8zM779.7 1077.6l-4 7.4h8zM744.5 1112.1l-4 7.4h8zM774.4 1105.7l-4 7.4h8zM736.0 1117.6l-4 7.4h8zM712.2 1149.8l-4 7.4h8zM789.3 1075.0l-4 7.4h8zM706.2 1114.8l-4 7.4h8zM720.7 1154.2l-4 7.4h8zM744.8 1148.0l-4 7.4h8zM797.3 1063.8l-4 7.4h8zM783.0 1098.1l-4 7.4h8zM771.3 1094.0l-4 7.4h8zM747.7 1074.8l-4 7.4h8zM705.4 1117.2l-4 7.4h8zM716.9 1078.6l-4 7.4h8zM797.6 1079.1l-4 7.4h8zM816.2 1076.3l-4 7.4h8zM733.0 1097.5l-4 7.4h8zM737.8 1072.2l-4 7.4h8zM702.3 1116.7l-4 7.4h8zM733.5 1142.5l-4 7.4h8zM709.9 1159.0l-4 7.4h8zM717.9 1081.8l-4 7.4h8zM763.6 1082.0l-4 7.4h8zM718.3 1131.6l-4 7.4h8zM719.3 1097.5l-4 7.4h8zM789.3 1090.2l-4 7.4h8zM723.6 1116.1l-4 7.4h8zM748.9 1093.5l-4 7.4h8zM726.5 1121.9l-4 7.4h8zM705.0 1127.2l-4 7.4h8zM740.3 1155.9l-4 7.4h8zM737.9 1066.2l-4 7.4h8zM763.8 1109.7l-4 7.4h8zM803.9 1066.7l-4 7.4h8zM730.6 1098.6l-4 7.4h8zM782.2 1082.1l-4 7.4h8zM792.4 1076.2l-4 7.4h8zM711.1 1092.7l-4 7.4h8zM737.7 1095.3l-4 7.4h8zM717.5 1083.1l-4 7.4h8zM762.9 1096.8l-4 7.4h8zM760.7 1140.0l-4 7.4h8zM810.5 1073.8l-4 7.4h8zM719.0 1132.8l-4 7.4h8zM717.1 1124.6l-4 7.4h8zM690.3 1137.8l-4 7.4h8zM703.5 1147.5l-4 7.4h8zM698.1 1113.5l-4 7.4h8zM783.5 1088.2l-4 7.4h8zM698.6 1128.7l-4 7.4h8zM729.2 1135.4l-4 7.4h8zM734.4 1145.9l-4 7.4h8zM763.0 1065.3l-4 7.4h8zM737.4 1080.0l-4 7.4h8zM696.2 1159.5l-4 7.4h8zM710.3 1087.0l-4 7.4h8zM795.4 1083.8l-4 7.4h8zM795.6 1072.7l-4 7.4h8zM801.0 1083.9l-4 7.4h8zM737.4 1153.2l-4 7.4h8zM759.9 1091.7l-4 7.4h8zM713.3 1131.7l-4 7.4h8zM797.0 1065.0l-4 7.4h8zM690.7 1183.9l-4 7.4h8zM790.6 1068.7l-4 7.4h8zM708.9 1165.4l-4 7.4h8zM774.6 1101.6l-4 7.4h8zM724.2 1097.7l-4 7.4h8zM781.8 1080.8l-4 7.4h8zM741.3 1099.8l-4 7.4h8zM775.7 1068.0l-4 7.4h8zM769.8 1113.7l-4 7.4h8zM721.4 1094.5l-4 7.4h8zM713.0 1149.2l-4 7.4h8zM716.0 1139.1l-4 7.4h8zM725.7 1136.3l-4 7.4h8zM792.9 1070.7l-4 7.4h8zM763.0 1079.0l-4 7.4h8zM704.2 1117.8l-4 7.4h8zM693.8 1154.9l-4 7.4h8zM792.6 1082.7l-4 7.4h8zM696.6 1144.2l-4 7.4h8zM799.0 1069.3l-4 7.4h8zM725.2 1136.4l-4 7.4h8zM800.4 1085.2l-4 7.4h8zM736.5 1065.7l-4 7.4h8zM717.7 1140.0l-4 7.4h8zM766.5 1111.1l-4 7.4h8zM726.0 1155.8l-4 7.4h8zM769.7 1107.5l-4 7.4h8zM693.7 1146.8l-4 7.4h8zM722.8 1140.2l-4 7.4h8zM767.5 1120.9l-4 7.4h8zM799.3 1076.1l-4 7.4h8zM714.3 1077.9l-4 7.4h8zM748.1 1099.8l-4 7.4h8zM771.7 1098.4l-4 7.4h8zM810.9 1078.9l-4 7.4h8zM701.9 1114.2l-4 7.4h8zM700.0 1157.8l-4 7.4h8zM770.9 1107.5l-4 7.4h8zM753.5 1099.2l-4 7.4h8zM766.4 1124.7l-4 7.4h8zM788.3 1075.5l-4 7.4h8zM690.7 1140.3l-4 7.4h8zM795.0 1074.0l-4 7.4h8zM701.9 1091.7l-4 7.4h8zM791.1 1085.6l-4 7.4h8zM733.6 1132.2l-4 7.4h8zM780.6 1087.6l-4 7.4h8zM808.8 1073.7l-4 7.4h8zM760.2 1140.3l-4 7.4h8zM760.6 1142.0l-4 7.4h8zM703.2 1122.2l-4 7.4h8zM695.0 1110.9l-4 7.4h8zM721.1 1145.6l-4 7.4h8zM701.3 1102.0l-4 7.4h8zM793.5 1074.1l-4 7.4h8zM721.6 1150.2l-4 7.4h8zM791.2 1083.7l-4 7.4h8zM737.7 1100.9l-4 7.4h8zM695.6 1174.8l-4 7.4h8zM700.3 1146.6l-4 7.4h8zM782.6 1076.0l-4 7.4h8zM816.3 1080.0l-4 7.4h8zM713.9 1156.2l-4 7.4h8zM760.6 1073.3l-4 7.4h8zM720.8 1134.9l-4 7.4h8zM700.9 1111.5l-4 7.4h8zM808.8 1077.9l-4 7.4h8zM805.2 1068.0l-4 7.4h8zM762.1 1086.4l-4 7.4h8zM712.4 1167.4l-4 7.4h8zM745.7 1138.3l-4 7.4h8zM697.5 1158.1l-4 7.4h8zM756.6 1099.6l-4 7.4h8zM693.9 1123.9l-4 7.4h8zM690.2 1147.1l-4 7.4h8zM717.0 1091.2l-4 7.4h8zM763.8 1138.5l-4 7.4h8zM817.9 1077.4l-4 7.4h8zM722.5 1127.8l-4 7.4h8zM695.8 1172.7l-4 7.4h8zM738.1 1105.8l-4 7.4h8zM772.6 1097.8l-4 7.4h8zM810.9 1081.7l-4 7.4h8zM787.2 1082.9l-4 7.4h8zM710.3 1152.7l-4 7.4h8zM772.7 1098.8l-4 7.4h8zM810.0 1074.1l-4 7.4h8zM764.2 1087.5l-4 7.4h8zM698.9 1138.3l-4 7.4h8zM755.3 1106.5l-4 7.4h8zM714.7 1121.2l-4 7.4h8zM745.5 1071.9l-4 7.4h8zM818.0 1080.1l-4 7.4h8zM811.7 1073.9l-4 7.4h8zM698.1 1126.2l-4 7.4h8zM720.9 1118.5l-4 7.4h8zM758.6 1138.1l-4 7.4h8zM794.0 1077.1l-4 7.4h8zM803.9 1078.3l-4 7.4h8zM769.4 1073.7l-4 7.4h8zM720.7 1156.3l-4 7.4h8zM696.1 1148.9l-4 7.4h8zM804.0 1084.5l-4 7.4h8zM711.6 1091.9l-4 7.4h8zM724.0 1116.7l-4 7.4h8zM815.6 1074.5l-4 7.4h8zM788.6 1093.0l-4 7.4h8zM711.4 1146.6l-4 7.4h8zM800.9 1058.6l-4 7.4h8zM695.8 1183.1l-4 7.4h8zM692.0 1147.5l-4 7.4h8zM759.2 1078.2l-4 7.4h8zM730.8 1075.8l-4 7.4h8zM754.1 1136.5l-4 7.4h8zM719.4 1106.4l-4 7.4h8zM690.3 1135.9l-4 7.4h8zM774.9 1067.6l-4 7.4h8zM705.6 1153.3l-4 7.4h8zM800.5 1072.3l-4 7.4h8zM743.4 1107.9l-4 7.4h8zM817.3 1076.7l-4 7.4h8zM765.7 1129.1l-4 7.4h8zM811.2 1075.9l-4 7.4h8zM748.2 1107.7l-4 7.4h8zM722.4 1109.0l-4 7.4h8zM691.5 1116.8l-4 7.4h8zM769.9 1084.0l-4 7.4h8zM697.5 1127.0l-4 7.4h8zM773.7 1065.7l-4 7.4h8zM733.0 1113.4l-4 7.4h8zM732.5 1108.8l-4 7.4h8zM692.0 1165.4l-4 7.4h8zM730.9 1081.3l-4 7.4h8zM772.5 1099.5l-4 7.4h8zM694.4 1157.6l-4 7.4h8zM722.9 1131.7l-4 7.4h8zM792.2 1084.4l-4 7.4h8zM703.5 1170.3l-4 7.4h8zM757.4 1086.0l-4 7.4h8zM730.8 1122.8l-4 7.4h8zM716.5 1083.3l-4 7.4h8zM750.3 1147.7l-4 7.4h8zM709.9 1122.2l-4 7.4h8zM755.5 1139.2l-4 7.4h8zM709.8 1078.6l-4 7.4h8zM695.3 1121.4l-4 7.4h8zM784.6 1078.6l-4 7.4h8zM803.0 1068.0l-4 7.4h8zM810.6 1079.4l-4 7.4h8zM718.8 1106.5l-4 7.4h8zM701.7 1154.5l-4 7.4h8zM766.1 1090.1l-4 7.4h8zM691.9 1136.9l-4 7.4h8zM741.2 1098.4l-4 7.4h8zM794.1 1075.6l-4 7.4h8zM713.9 1079.2l-4 7.4h8zM727.8 1137.1l-4 7.4h8zM804.2 1077.8l-4 7.4h8zM784.1 1091.7l-4 7.4h8zM773.8 1074.4l-4 7.4h8zM769.1 1102.5l-4 7.4h8zM741.9 1087.0l-4 7.4h8zM799.7 1074.7l-4 7.4h8zM817.8 1077.7l-4 7.4h8zM781.4 1093.4l-4 7.4h8zM733.5 1130.2l-4 7.4h8zM778.9 1077.0l-4 7.4h8zM748.6 1103.9l-4 7.4h8zM705.6 1175.1l-4 7.4h8zM715.2 1122.8l-4 7.4h8zM808.1 1075.6l-4 7.4h8zM798.9 1078.0l-4 7.4h8zM724.9 1129.9l-4 7.4h8zM723.5 1143.5l-4 7.4h8zM783.0 1081.2l-4 7.4h8zM785.3 1080.1l-4 7.4h8zM738.1 1137.4l-4 7.4h8zM765.2 1087.8l-4 7.4h8zM715.0 1096.5l-4 7.4h8zM811.8 1082.3l-4 7.4h8zM701.9 1089.3l-4 7.4h8zM755.4 1148.0l-4 7.4h8zM697.0 1125.9l-4 7.4h8zM733.6 1093.2l-4 7.4h8zM690.4 1138.0l-4 7.4h8zM758.4 1083.9l-4 7.4h8zM755.9 1105.6l-4 7.4h8zM813.5 1080.0l-4 7.4h8zM810.7 1072.9l-4 7.4h8zM753.9 1110.7l-4 7.4h8zM733.3 1137.0l-4 7.4h8zM700.9 1124.5l-4 7.4h8zM775.9 1079.3l-4 7.4h8zM782.0 1086.8l-4 7.4h8zM753.1 1073.9l-4 7.4h8zM710.2 1112.4l-4 7.4h8zM694.2 1129.5l-4 7.4h8zM771.9 1086.9l-4 7.4h8zM741.3 1084.2l-4 7.4h8zM695.7 1133.1l-4 7.4h8zM691.8 1131.5l-4 7.4h8zM769.6 1090.6l-4 7.4h8zM695.8 1156.7l-4 7.4h8zM700.3 1106.6l-4 7.4h8zM753.5 1077.9l-4 7.4h8zM771.7 1077.5l-4 7.4h8zM788.2 1092.4l-4 7.4h8zM726.7 1152.0l-4 7.4h8zM768.4 1081.4l-4 7.4h8zM709.8 1083.0l-4 7.4h8zM796.1 1075.5l-4 7.4h8zM758.2 1128.0l-4 7.4h8zM728.0 1100.0l-4 7.4h8zM810.3 1072.2l-4 7.4h8zM755.3 1130.2l-4 7.4h8zM707.3 1101.0l-4 7.4h8zM693.8 1125.5l-4 7.4h8zM705.5 1099.3l-4 7.4h8zM757.0 1066.8l-4 7.4h8zM774.5 1081.5l-4 7.4h8zM693.9 1142.4l-4 7.4h8zM807.9 1083.5l-4 7.4h8zM717.3 1164.8l-4 7.4h8zM695.1 1165.0l-4 7.4h8zM698.3 1168.0l-4 7.4h8zM777.0 1100.4l-4 7.4h8zM720.5 1091.3l-4 7.4h8zM715.2 1152.0l-4 7.4h8zM741.3 1082.1l-4 7.4h8zM761.2 1110.1l-4 7.4h8zM713.1 1165.2l-4 7.4h8zM703.3 1090.6l-4 7.4h8zM750.7 1090.2l-4 7.4h8zM769.9 1070.0l-4 7.4h8zM721.0 1159.3l-4 7.4h8zM782.2 1090.3l-4 7.4h8zM714.8 1118.7l-4 7.4h8zM756.4 1077.2l-4 7.4h8zM727.8 1131.3l-4 7.4h8zM817.2 1079.3l-4 7.4h8zM695.2 1171.4l-4 7.4h8zM721.9 1143.7l-4 7.4h8zM713.2 1144.6l-4 7.4h8zM712.7 1157.0l-4 7.4h8zM764.1 1062.5l-4 7.4h8zM774.2 1091.2l-4 7.4h8zM791.8 1085.6l-4 7.4h8zM722.2 1156.2l-4 7.4h8zM725.4 1100.5l-4 7.4h8zM695.2 1173.2l-4 7.4h8zM752.5 1113.1l-4 7.4h8zM756.9 1109.1l-4 7.4h8zM719.2 1131.4l-4 7.4h8zM712.4 1085.6l-4 7.4h8zM757.3 1080.7l-4 7.4h8zM713.2 1169.0l-4 7.4h8zM805.4 1074.7l-4 7.4h8zM718.4 1108.5l-4 7.4h8zM698.4 1170.8l-4 7.4h8zM766.3 1093.9l-4 7.4h8zM814.7 1074.8l-4 7.4h8zM744.6 1091.7l-4 7.4h8zM730.9 1126.6l-4 7.4h8zM723.0 1105.7l-4 7.4h8zM762.8 1127.8l-4 7.4h8zM743.5 1093.9l-4 7.4h8zM766.6 1093.4l-4 7.4h8z" fill="none" stroke="#000" stroke-width="2.1" stroke-linejoin="round"/>
<path d="M989.0 941.5l-3.7 6.9h7.4zM1123.6 939.2l-3.7 6.9h7.4zM912.7 954.4l-3.7 6.9h7.4zM857.6 968.5l-3.7 6.9h7.4zM869.3 983.2l-3.7 6.9h7.4zM1012.4 971.4l-3.7 6.9h7.4zM939.1 974.4l-3.7 6.9h7.4zM947.9 981.4l-3.7 6.9h7.4zM962.0 989.0l-3.7 6.9h7.4zM974.9 983.2l-3.7 6.9h7.4zM971.4 985.5l-3.7 6.9h7.4zM884.0 994.9l-3.7 6.9h7.4zM890.4 1001.9l-3.7 6.9h7.4zM909.2 998.4l-3.7 6.9h7.4zM910.4 1006.6l-3.7 6.9h7.4zM932.7 998.4l-3.7 6.9h7.4zM897.5 1014.8l-3.7 6.9h7.4zM903.3 1023.1l-3.7 6.9h7.4zM847.0 1013.7l-3.7 6.9h7.4zM845.9 1028.9l-3.7 6.9h7.4zM851.7 1036.0l-3.7 6.9h7.4zM862.3 1046.5l-3.7 6.9h7.4zM884.6 1040.7l-3.7 6.9h7.4zM895.1 1050.0l-3.7 6.9h7.4zM902.2 1047.7l-3.7 6.9h7.4zM916.2 1051.2l-3.7 6.9h7.4zM940.3 1042.4l-3.7 6.9h7.4zM861.1 1070.0l-3.7 6.9h7.4zM878.7 1071.2l-3.7 6.9h7.4zM842.3 1071.2l-3.7 6.9h7.4zM845.0 1053.7l-3.7 6.9h7.4zM852.0 1057.7l-3.7 6.9h7.4zM860.0 1055.7l-3.7 6.9h7.4zM866.0 1058.7l-3.7 6.9h7.4zM848.0 1061.7l-3.7 6.9h7.4zM856.0 1063.7l-3.7 6.9h7.4zM818.1 1013.6l-3.7 6.9h7.4zM846.3 1012.1l-3.7 6.9h7.4zM800.0 1026.6l-3.7 6.9h7.4zM808.7 1032.4l-3.7 6.9h7.4zM785.5 1042.5l-3.7 6.9h7.4zM753.7 1042.5l-3.7 6.9h7.4zM836.2 1038.2l-3.7 6.9h7.4zM847.7 1031.0l-3.7 6.9h7.4zM883.9 1041.1l-3.7 6.9h7.4zM862.2 1045.4l-3.7 6.9h7.4zM842.0 1054.1l-3.7 6.9h7.4zM853.5 1055.6l-3.7 6.9h7.4zM863.7 1057.0l-3.7 6.9h7.4zM860.8 1070.0l-3.7 6.9h7.4zM878.1 1071.5l-3.7 6.9h7.4zM831.8 1080.2l-3.7 6.9h7.4zM817.4 1096.1l-3.7 6.9h7.4zM795.6 1087.4l-3.7 6.9h7.4zM782.6 1119.2l-3.7 6.9h7.4zM745.2 1178.9l-3.7 6.9h7.4zM715.5 1193.1l-3.7 6.9h7.4zM657.5 1236.3l-3.7 6.9h7.4zM715.4 1194.4l-3.7 6.9h7.4zM752.9 1042.2l-3.7 6.9h7.4zM785.8 1040.9l-3.7 6.9h7.4zM799.4 1024.1l-3.7 6.9h7.4zM818.7 1013.8l-3.7 6.9h7.4zM698.7 1084.7l-3.7 6.9h7.4zM816.1 1096.3l-3.7 6.9h7.4zM794.2 1086.0l-3.7 6.9h7.4zM836.0 1045.7l-3.7 6.9h7.4zM830.0 1055.7l-3.7 6.9h7.4zM826.0 1065.7l-3.7 6.9h7.4zM822.0 1074.7l-3.7 6.9h7.4zM838.0 1073.7l-3.7 6.9h7.4z" fill="#3a3a3a" stroke="#111" stroke-width="1.9" stroke-linejoin="round"/>
<line x1="300.4" y1="1451.7" x2="1574.3" y2="198.7" stroke="#ff3a1a" stroke-width="5.4" stroke-dasharray="0.1 10.963" stroke-dashoffset="8.96" stroke-linecap="round" opacity="0.8"/>
<line x1="300.4" y1="1451.7" x2="1574.3" y2="629.9" stroke="#ff3a1a" stroke-width="5.4" stroke-dasharray="0.1 10.963" stroke-dashoffset="7.8" stroke-linecap="round" opacity="0.8"/>
<line x1="300.4" y1="1451.7" x2="1574.3" y2="436.5" stroke="#ff3010" stroke-width="4.6"/>
<path d="M321.6 1451.7v-12M321.6 179.6v12M300.4 1430.5h12M1574.3 1430.5h-12M342.9 1451.7v-12M342.9 179.6v12M300.4 1409.3h12M1574.3 1409.3h-12M364.1 1451.7v-12M364.1 179.6v12M300.4 1388.1h12M1574.3 1388.1h-12M385.3 1451.7v-12M385.3 179.6v12M300.4 1366.9h12M1574.3 1366.9h-12M406.6 1451.7v-12M406.6 179.6v12M300.4 1345.7h12M1574.3 1345.7h-12M427.8 1451.7v-12M427.8 179.6v12M300.4 1324.5h12M1574.3 1324.5h-12M449.0 1451.7v-12M449.0 179.6v12M300.4 1303.3h12M1574.3 1303.3h-12M470.3 1451.7v-12M470.3 179.6v12M300.4 1282.1h12M1574.3 1282.1h-12M491.5 1451.7v-12M491.5 179.6v12M300.4 1260.9h12M1574.3 1260.9h-12M512.7 1451.7v-25M512.7 179.6v25M300.4 1239.7h25M1574.3 1239.7h-25M533.9 1451.7v-12M533.9 179.6v12M300.4 1218.5h12M1574.3 1218.5h-12M555.2 1451.7v-12M555.2 179.6v12M300.4 1197.3h12M1574.3 1197.3h-12M576.4 1451.7v-12M576.4 179.6v12M300.4 1176.1h12M1574.3 1176.1h-12M597.6 1451.7v-12M597.6 179.6v12M300.4 1154.9h12M1574.3 1154.9h-12M618.9 1451.7v-12M618.9 179.6v12M300.4 1133.7h12M1574.3 1133.7h-12M640.1 1451.7v-12M640.1 179.6v12M300.4 1112.5h12M1574.3 1112.5h-12M661.3 1451.7v-12M661.3 179.6v12M300.4 1091.3h12M1574.3 1091.3h-12M682.6 1451.7v-12M682.6 179.6v12M300.4 1070.1h12M1574.3 1070.1h-12M703.8 1451.7v-12M703.8 179.6v12M300.4 1048.9h12M1574.3 1048.9h-12M725.0 1451.7v-25M725.0 179.6v25M300.4 1027.7h25M1574.3 1027.7h-25M746.3 1451.7v-12M746.3 179.6v12M300.4 1006.5h12M1574.3 1006.5h-12M767.5 1451.7v-12M767.5 179.6v12M300.4 985.3h12M1574.3 985.3h-12M788.7 1451.7v-12M788.7 179.6v12M300.4 964.1h12M1574.3 964.1h-12M810.0 1451.7v-12M810.0 179.6v12M300.4 942.9h12M1574.3 942.9h-12M831.2 1451.7v-12M831.2 179.6v12M300.4 921.7h12M1574.3 921.7h-12M852.4 1451.7v-12M852.4 179.6v12M300.4 900.5h12M1574.3 900.5h-12M873.7 1451.7v-12M873.7 179.6v12M300.4 879.3h12M1574.3 879.3h-12M894.9 1451.7v-12M894.9 179.6v12M300.4 858.1h12M1574.3 858.1h-12M916.1 1451.7v-12M916.1 179.6v12M300.4 836.9h12M1574.3 836.9h-12M937.4 1451.7v-25M937.4 179.6v25M300.4 815.6h25M1574.3 815.6h-25M958.6 1451.7v-12M958.6 179.6v12M300.4 794.4h12M1574.3 794.4h-12M979.8 1451.7v-12M979.8 179.6v12M300.4 773.2h12M1574.3 773.2h-12M1001.0 1451.7v-12M1001.0 179.6v12M300.4 752.0h12M1574.3 752.0h-12M1022.3 1451.7v-12M1022.3 179.6v12M300.4 730.8h12M1574.3 730.8h-12M1043.5 1451.7v-12M1043.5 179.6v12M300.4 709.6h12M1574.3 709.6h-12M1064.7 1451.7v-12M1064.7 179.6v12M300.4 688.4h12M1574.3 688.4h-12M1086.0 1451.7v-12M1086.0 179.6v12M300.4 667.2h12M1574.3 667.2h-12M1107.2 1451.7v-12M1107.2 179.6v12M300.4 646.0h12M1574.3 646.0h-12M1128.4 1451.7v-12M1128.4 179.6v12M300.4 624.8h12M1574.3 624.8h-12M1149.7 1451.7v-25M1149.7 179.6v25M300.4 603.6h25M1574.3 603.6h-25M1170.9 1451.7v-12M1170.9 179.6v12M300.4 582.4h12M1574.3 582.4h-12M1192.1 1451.7v-12M1192.1 179.6v12M300.4 561.2h12M1574.3 561.2h-12M1213.4 1451.7v-12M1213.4 179.6v12M300.4 540.0h12M1574.3 540.0h-12M1234.6 1451.7v-12M1234.6 179.6v12M300.4 518.8h12M1574.3 518.8h-12M1255.8 1451.7v-12M1255.8 179.6v12M300.4 497.6h12M1574.3 497.6h-12M1277.1 1451.7v-12M1277.1 179.6v12M300.4 476.4h12M1574.3 476.4h-12M1298.3 1451.7v-12M1298.3 179.6v12M300.4 455.2h12M1574.3 455.2h-12M1319.5 1451.7v-12M1319.5 179.6v12M300.4 434.0h12M1574.3 434.0h-12M1340.8 1451.7v-12M1340.8 179.6v12M300.4 412.8h12M1574.3 412.8h-12M1362.0 1451.7v-25M1362.0 179.6v25M300.4 391.6h25M1574.3 391.6h-25M1383.2 1451.7v-12M1383.2 179.6v12M300.4 370.4h12M1574.3 370.4h-12M1404.4 1451.7v-12M1404.4 179.6v12M300.4 349.2h12M1574.3 349.2h-12M1425.7 1451.7v-12M1425.7 179.6v12M300.4 328.0h12M1574.3 328.0h-12M1446.9 1451.7v-12M1446.9 179.6v12M300.4 306.8h12M1574.3 306.8h-12M1468.1 1451.7v-12M1468.1 179.6v12M300.4 285.6h12M1574.3 285.6h-12M1489.4 1451.7v-12M1489.4 179.6v12M300.4 264.4h12M1574.3 264.4h-12M1510.6 1451.7v-12M1510.6 179.6v12M300.4 243.2h12M1574.3 243.2h-12M1531.8 1451.7v-12M1531.8 179.6v12M300.4 222.0h12M1574.3 222.0h-12M1553.1 1451.7v-12M1553.1 179.6v12M300.4 200.8h12M1574.3 200.8h-12" stroke="#000" stroke-width="5.2" fill="none"/>
<rect x="300.4" y="179.6" width="1273.9" height="1272.1" fill="none" stroke="#000" stroke-width="5.2" stroke-linejoin="round"/>
<text x="279" y="229.5" font-size="86" text-anchor="end">60</text>
<text x="279" y="420.5" font-size="86" text-anchor="end">50</text>
<text x="279" y="630" font-size="86" text-anchor="end">40</text>
<text x="279" y="844" font-size="86" text-anchor="end">30</text>
<text x="279" y="1054" font-size="86" text-anchor="end">20</text>
<text x="279" y="1268" font-size="86" text-anchor="end">10</text>
<text x="279" y="1451.5" font-size="86" text-anchor="end">0</text>
<text x="300.4" y="1556.5" font-size="86" text-anchor="middle">0</text>
<text x="512.7" y="1556.5" font-size="86" text-anchor="middle">10</text>
<text x="725.0" y="1556.5" font-size="86" text-anchor="middle">20</text>
<text x="937.4" y="1556.5" font-size="86" text-anchor="middle">30</text>
<text x="1149.7" y="1556.5" font-size="86" text-anchor="middle">40</text>
<text x="1362.0" y="1556.5" font-size="86" text-anchor="middle">50</text>
<text x="1574.3" y="1556.5" font-size="86" text-anchor="middle">60</text>
<text x="937.7" y="1647" font-size="84" text-anchor="middle">Measured PhiDP [degrees]</text>
<text transform="translate(118.5 816) rotate(-90)" x="0" y="0" font-size="84" text-anchor="middle">Calculated PhiDP [degrees]</text>
<text x="404.2" y="311" font-size="67" letter-spacing="0.40">Number</text>
<text x="661.0" y="311" font-size="67" letter-spacing="0.50">of</text>
<text x="736.5" y="311" font-size="67" letter-spacing="-0.73">data</text>
<text transform="translate(885.9 311.5) scale(0.95 0.72)" x="0" y="0" font-size="64" stroke="#000" stroke-width="1.6">=</text>
<text x="980.7" y="311" font-size="67" letter-spacing="0.63">8795</text>
<text x="404.7" y="379" font-size="67" letter-spacing="0.73">Bias</text>
<text transform="translate(553.0 379.5) scale(0.95 0.72)" x="0" y="0" font-size="64" stroke="#000" stroke-width="1.6">=</text>
<text x="631.0" y="379" font-size="67" letter-spacing="0.35">-1.08</text>
<text x="801.8" y="379" font-size="67" letter-spacing="0.43">[dB]</text>
<text x="405.6" y="446.8" font-size="67" letter-spacing="0.57">Slope</text>
<text transform="translate(597.3 447.3) scale(0.95 0.72)" x="0" y="0" font-size="64" stroke="#000" stroke-width="1.6">=</text>
<text x="671.6" y="446.8" font-size="67" letter-spacing="-0.27">0.80</text>
</svg></body></html>
